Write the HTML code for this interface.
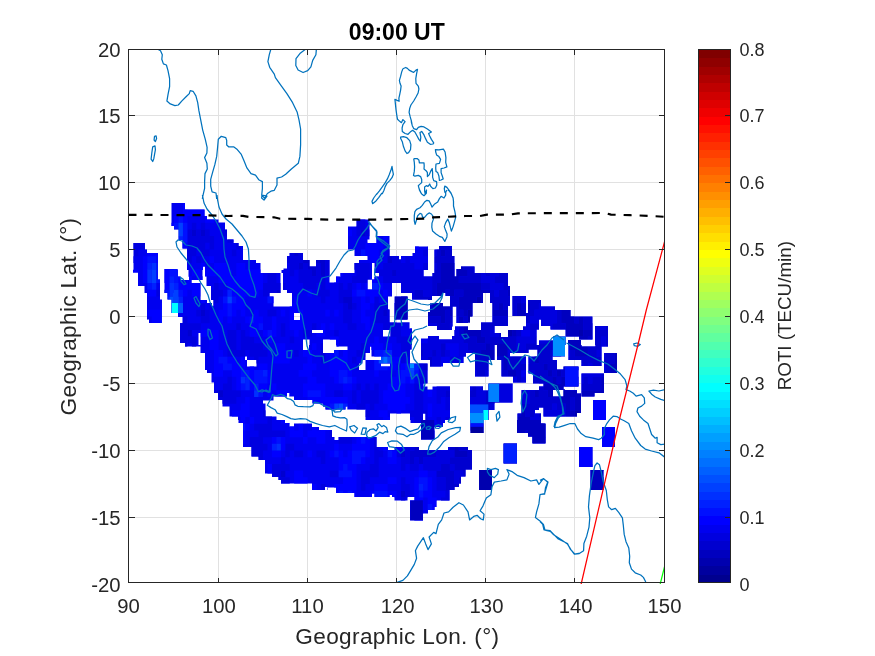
<!DOCTYPE html>
<html lang="en"><head><meta charset="utf-8"><title>09:00 UT</title>
<style>html,body{margin:0;padding:0;background:#fff}svg{display:block}text{font-family:"Liberation Sans",Arial,Helvetica,sans-serif;fill:#262626}</style></head><body>
<svg width="875" height="656" viewBox="0 0 875 656">
<rect width="875" height="656" fill="#fff"/>
<defs><clipPath id="ax"><rect x="128.5" y="49.5" width="536.0" height="534.6"/></clipPath>
<clipPath id="dm"><path d="M171.5 203H185V209.5H171.5ZM171.5 209.5H204.5V216H171.5ZM171.5 216H207V219.5H171.5ZM171.5 219.5H218.5V222.5H171.5ZM171.5 222.5H225V226H171.5ZM356.5 219.5H369.5V226.5H356.5ZM174 226H225V229.5H174ZM348 226.5H369.5V239.5H348ZM178.5 229.5H227V239.5H178.5ZM178.5 239.5H233.5V240H178.5ZM376.5 236H389.5V243H376.5ZM348 239.5H367.5V243H348ZM182.5 240H233.5V243H182.5ZM182.5 243H238.5V246H182.5ZM182.5 246H243V248.5H182.5ZM348 243H389.5V249.5H348ZM133.5 243H145V249.5H133.5ZM439 246H452V249.5H439ZM415 246.5H428V253H415ZM133.5 249.5H147V253H133.5ZM354.5 249.5H389.5V256H354.5ZM434.5 249.5H452V256H434.5ZM412.5 253H428V256H412.5ZM289.5 253H303V256H289.5ZM367.5 256H399V259.5H367.5ZM401 256H428V259.5H401ZM187 248.5H243V260H187ZM287 256H303V260H287ZM367.5 259.5H428V260H367.5ZM187 260H256V263H187ZM359 260H428V263H359ZM287 260H309.5V266.5H287ZM316 260H329.5V266.5H316ZM187 263H260.5V266.5H187ZM287 266.5H329.5V268.5H287ZM461 266.5H474.5V269H461ZM133.5 253H158V270H133.5ZM374.5 263H428V270H374.5ZM187 266.5H203V270H187ZM283.5 268.5H329.5V270H283.5ZM164.5 269H177.5V270H164.5ZM133 270H158V272.5H133ZM434.5 256H454.5V273H434.5ZM354.5 263H372V273H354.5ZM205 266.5H260.5V273H205ZM456.5 269H474.5V273H456.5ZM374.5 270H423.5V273H374.5ZM281.5 270H329.5V273H281.5ZM164.5 270H178V276.5H164.5ZM188.5 270H202.5V276.5H188.5ZM205 273H280.5V276.5H205ZM432.5 273H454.5V276.5H432.5ZM456.5 273H508V276.5H456.5ZM379 273H423.5V276.5H379ZM340.5 273H372V276.5H340.5ZM138 272.5H158V279.5H138ZM374.5 276.5H508V279.5H374.5ZM336 276.5H372V279.5H336ZM164.5 276.5H180.5V280H164.5ZM189 276.5H202.5V280H189ZM283 273H329.5V282.5H283ZM336 279.5H367.5V282.5H336ZM372 279.5H508V283H372ZM164.5 280H191.5V283H164.5ZM206.5 276.5H280.5V286H206.5ZM138 279.5H160V286H138ZM401 283H508V286H401ZM283 282.5H367.5V289.5H283ZM372 283H392V289.5H372ZM283 289.5H392V290H283ZM164.5 283H200.5V293H164.5ZM144.5 286H160V293H144.5ZM401 286H510V293H401ZM211 286H280.5V293H211ZM287 290H392V293H287ZM412 293H443V296H412ZM445.5 293H483V296H445.5ZM292 293H392V296.5H292ZM211 293H269.5V296.5H211ZM167.5 293H200.5V299.5H167.5ZM147 293H160V299.5H147ZM412 296H432V299.5H412ZM211 296.5H273.5V300H211ZM171.5 299.5H200.5V300H171.5ZM428 299.5H432V300H428ZM490 293H510V303H490ZM450 296H483V303H450ZM171.5 300H207V303H171.5ZM432 303H443V303.5H432ZM492.5 303H510V306H492.5ZM292 296.5H388V306.5H292ZM213.5 300H273.5V306.5H213.5ZM528 300H541V306.5H528ZM171.5 303H212V306.5H171.5ZM450 303H472.5V306.5H450ZM430 303.5H443V306.5H430ZM171.5 306.5H388V309.5H171.5ZM528 306.5H555V310H528ZM430 306.5H452.5V312H430ZM512.5 296H526V313H512.5ZM171.5 309.5H389.5V313H171.5ZM528 310H570.5V313H528ZM512.5 313H570.5V316H512.5ZM456.5 306.5H472.5V316.5H456.5ZM526 316H570.5V316.5H526ZM178 313H294V317H178ZM394.5 296.5H407.5V319.5H394.5ZM147 299.5H162V319.5H147ZM526 316.5H592.5V319.5H526ZM300 313H389.5V320H300ZM182.5 317H294V320H182.5ZM492.5 306H508V322.5H492.5ZM456.5 316.5H470V322.5H456.5ZM182.5 320H389.5V322.5H182.5ZM149 319.5H162V323H149ZM456.5 322.5H468V323H456.5ZM182.5 322.5H409.5V323H182.5ZM428 312H452.5V326H428ZM541 319.5H592.5V326H541ZM481 322.5H508V326H481ZM526 319.5H539V326.5H526ZM437 326H452.5V326.5H437ZM180 323H409.5V328.5H180ZM550.5 326H592.5V329.5H550.5ZM523 326.5H539V329.5H523ZM481 326H494.5V330H481ZM455 326.5H468V330H455ZM437 326.5H452V330H437ZM180 328.5H412V330H180ZM523 329.5H536.5V330H523ZM180 330H312V333H180ZM454.5 330H494.5V333H454.5ZM323 330H383V333H323ZM454.5 333H501V336H454.5ZM565.5 329.5H592.5V336.5H565.5ZM390.5 330H412V336.5H390.5ZM200.5 333H383V336.5H200.5ZM508 330H536.5V337H508ZM452 336H501V337H452ZM428 336H439V338.5H428ZM200.5 336.5H412V339.5H200.5ZM579 336.5H592.5V339.5H579ZM452 337H536.5V339.5H452ZM421 338.5H439V339.5H421ZM553 336.5H565.5V340.5H553ZM180 333H198.5V343H180ZM595 326H608V345H595ZM309.5 339.5H323V345H309.5ZM421 339.5H536.5V345H421ZM336 339.5H412V345H336ZM200.5 339.5H303V345H200.5ZM568 340H581V345H568ZM539 340.5H565.5V345H539ZM185 343H198.5V345H185ZM336.5 345H411.5V346.5H336.5ZM568.5 345H581.5V346.5H568.5ZM595.5 345H608V346.5H595.5ZM185 345H303V346.5H185ZM497 345H565V349.5H497ZM371.5 346.5H411.5V349.5H371.5ZM309 345H323V350H309ZM347.5 346.5H370V350H347.5ZM200.5 346.5H303V350H200.5ZM421 345H494.5V353H421ZM497 349.5H528.5V353H497ZM200.5 350H323V353H200.5ZM334 350H370V353H334ZM537.5 349.5H565V356.5H537.5ZM371.5 349.5H410V356.5H371.5ZM205 353H365.5V356.5H205ZM497 353H510V356.5H497ZM421 353H466V356.5H421ZM568.5 346.5H601.5V360H568.5ZM475 353H494.5V360H475ZM381 356.5H410V360H381ZM421 356.5H463.5V360H421ZM205 356.5H245V360H205ZM528.5 356.5H552.5V360H528.5ZM497 356.5H526V360H497ZM247 356.5H365.5V360H247ZM430 360H463.5V363H430ZM256.5 360H362.5V363.5H256.5ZM365.5 360H410V363.5H365.5ZM581.5 360H601.5V366H581.5ZM205 360H247V366.5H205ZM430 363H443V366.5H430ZM390 363.5H427.5V366.5H390ZM256.5 363.5H359V366.5H256.5ZM365.5 363.5H381V366.5H365.5ZM528.5 360H557V369.5H528.5ZM563.5 366.5H578.5V369.5H563.5ZM365.5 366.5H427.5V370H365.5ZM205 366.5H359V370H205ZM604 353H617V373H604ZM207 370H427.5V373H207ZM528.5 369.5H578.5V373.5H528.5ZM501.5 360H526V376.5H501.5ZM475 360H488.5V376.5H475ZM211.5 373H427.5V382.5H211.5ZM513 376.5H526V382.5H513ZM533 373.5H578.5V383.5H533ZM214 382.5H427.5V383.5H214ZM214 383.5H423.5V386.5H214ZM543.5 383.5H578.5V386.5H543.5ZM432.5 386.5H450V389.5H432.5ZM214 386.5H427.5V389.5H214ZM539 386.5H563.5V389.5H539ZM539 389.5H565V390H539ZM488.5 383.5H512.5V390.5H488.5ZM470 386.5H483V390.5H470ZM581.5 373.5H604V393H581.5ZM214 389.5H450V393H214ZM563.5 390H577V393.5H563.5ZM521.5 390H553V396.5H521.5ZM581.5 393H594.5V396.5H581.5ZM289.5 393H450V396.5H289.5ZM218 393H287V396.5H218ZM563.5 393.5H581V396.5H563.5ZM294 396.5H450V400H294ZM218 396.5H273.5V400H218ZM222.5 400H273.5V400.5H222.5ZM470 390.5H512.5V402.5H470ZM312.5 400H450V403.5H312.5ZM222.5 400.5H263V403.5H222.5ZM222.5 403.5H265.5V406.5H222.5ZM323 403.5H450V406.5H323ZM521.5 396.5H581V407.5H521.5ZM325.5 406.5H345.5V409.5H325.5ZM347.5 406.5H450V409.5H347.5ZM470 402.5H494.5V410H470ZM521.5 407.5H539V410H521.5ZM543.5 407.5H581V413H543.5ZM365.5 409.5H450V413.5H365.5ZM521.5 410H535V413.5H521.5ZM229.5 406.5H265.5V416.5H229.5ZM543.5 413H577V416.5H543.5ZM593 400H606V420H593ZM470 410H488.5V420H470ZM365.5 413.5H390V420H365.5ZM410 413.5H423V420H410ZM425.5 413.5H450V420H425.5ZM517.5 413.5H541V420H517.5ZM238 416.5H276.5V420H238ZM410.5 420H445V423H410.5ZM238.5 420H285V423H238.5ZM517 420H541V423.5H517ZM243 423H289.5V426.5H243ZM294 423.5H312V426.5H294ZM421 423H443V427H421ZM243 426.5H312V427H243ZM243 427H319V430H243ZM470.5 420H483.5V433H470.5ZM517 423.5H545.5V433H517ZM528 433H545.5V436.5H528ZM243 430H332V437H243ZM421 427H434.5V439.5H421ZM243 437H334.5V440H243ZM338.5 437H376.5V440H338.5ZM532.5 436.5H545.5V443.5H532.5ZM602 427H615V447H602ZM243 440H376.5V447H243ZM251.5 447H388V450H251.5ZM448 447H468V450H448ZM394.5 447H419V450H394.5ZM251.5 450H472V456.5H251.5ZM258.5 456.5H472V460H258.5ZM503.5 443.5H517V463.5H503.5ZM579 447H592.5V467H579ZM265 460H472V469.5H265ZM265 469.5H465.5V473.5H265ZM272 473.5H465.5V476.5H272ZM272 476.5H461V477H272ZM278.5 477H461V480H278.5ZM281 480H461V483.5H281ZM312 483.5H459V487H312ZM327.5 487H454.5V487.5H327.5ZM590.5 470H603.5V490H590.5ZM479 470H492V490H479ZM312 487H325V490H312ZM336 487.5H454.5V490H336ZM327.5 487.5H328V490H327.5ZM336 490H449.5V493H336ZM354.5 493H449.5V493.5H354.5ZM374.5 493.5H449.5V495H374.5ZM354.5 493.5H372V497H354.5ZM374.5 495H389.5V497H374.5ZM392 495H449.5V497H392ZM394.5 497H407.5V500.5H394.5ZM414.5 497H449.5V500.5H414.5ZM410 500.5H436.5V507H410ZM410 507H434.5V510H410ZM410 510H428V513.5H410ZM410 513.5H423V520.5H410Z"/></clipPath>

</defs>
<path d="M218.5 49.5V582.5M307.5 49.5V582.5M396.5 49.5V582.5M485.5 49.5V582.5M574.5 49.5V582.5M128.5 517.5H664.5M128.5 450.5H664.5M128.5 383.5H664.5M128.5 316.5H664.5M128.5 249.5H664.5M128.5 182.5H664.5M128.5 115.5H664.5" stroke="#e1e1e1" stroke-width="1" fill="none" shape-rendering="crispEdges"/>
<path d="M171.5 203H185V209.5H171.5ZM171.5 209.5H204.5V216H171.5ZM171.5 216H207V219.5H171.5ZM171.5 219.5H218.5V222.5H171.5ZM171.5 222.5H225V226H171.5ZM356.5 219.5H369.5V226.5H356.5ZM174 226H225V229.5H174ZM348 226.5H369.5V239.5H348ZM178.5 229.5H227V239.5H178.5ZM178.5 239.5H233.5V240H178.5ZM376.5 236H389.5V243H376.5ZM348 239.5H367.5V243H348ZM182.5 240H233.5V243H182.5ZM182.5 243H238.5V246H182.5ZM182.5 246H243V248.5H182.5ZM348 243H389.5V249.5H348ZM133.5 243H145V249.5H133.5ZM439 246H452V249.5H439ZM415 246.5H428V253H415ZM133.5 249.5H147V253H133.5ZM354.5 249.5H389.5V256H354.5ZM434.5 249.5H452V256H434.5ZM412.5 253H428V256H412.5ZM289.5 253H303V256H289.5ZM367.5 256H399V259.5H367.5ZM401 256H428V259.5H401ZM187 248.5H243V260H187ZM287 256H303V260H287ZM367.5 259.5H428V260H367.5ZM187 260H256V263H187ZM359 260H428V263H359ZM287 260H309.5V266.5H287ZM316 260H329.5V266.5H316ZM187 263H260.5V266.5H187ZM287 266.5H329.5V268.5H287ZM461 266.5H474.5V269H461ZM133.5 253H158V270H133.5ZM374.5 263H428V270H374.5ZM187 266.5H203V270H187ZM283.5 268.5H329.5V270H283.5ZM164.5 269H177.5V270H164.5ZM133 270H158V272.5H133ZM434.5 256H454.5V273H434.5ZM354.5 263H372V273H354.5ZM205 266.5H260.5V273H205ZM456.5 269H474.5V273H456.5ZM374.5 270H423.5V273H374.5ZM281.5 270H329.5V273H281.5ZM164.5 270H178V276.5H164.5ZM188.5 270H202.5V276.5H188.5ZM205 273H280.5V276.5H205ZM432.5 273H454.5V276.5H432.5ZM456.5 273H508V276.5H456.5ZM379 273H423.5V276.5H379ZM340.5 273H372V276.5H340.5ZM138 272.5H158V279.5H138ZM374.5 276.5H508V279.5H374.5ZM336 276.5H372V279.5H336ZM164.5 276.5H180.5V280H164.5ZM189 276.5H202.5V280H189ZM283 273H329.5V282.5H283ZM336 279.5H367.5V282.5H336ZM372 279.5H508V283H372ZM164.5 280H191.5V283H164.5ZM206.5 276.5H280.5V286H206.5ZM138 279.5H160V286H138ZM401 283H508V286H401ZM283 282.5H367.5V289.5H283ZM372 283H392V289.5H372ZM283 289.5H392V290H283ZM164.5 283H200.5V293H164.5ZM144.5 286H160V293H144.5ZM401 286H510V293H401ZM211 286H280.5V293H211ZM287 290H392V293H287ZM412 293H443V296H412ZM445.5 293H483V296H445.5ZM292 293H392V296.5H292ZM211 293H269.5V296.5H211ZM167.5 293H200.5V299.5H167.5ZM147 293H160V299.5H147ZM412 296H432V299.5H412ZM211 296.5H273.5V300H211ZM171.5 299.5H200.5V300H171.5ZM428 299.5H432V300H428ZM490 293H510V303H490ZM450 296H483V303H450ZM171.5 300H207V303H171.5ZM432 303H443V303.5H432ZM492.5 303H510V306H492.5ZM292 296.5H388V306.5H292ZM213.5 300H273.5V306.5H213.5ZM528 300H541V306.5H528ZM171.5 303H212V306.5H171.5ZM450 303H472.5V306.5H450ZM430 303.5H443V306.5H430ZM171.5 306.5H388V309.5H171.5ZM528 306.5H555V310H528ZM430 306.5H452.5V312H430ZM512.5 296H526V313H512.5ZM171.5 309.5H389.5V313H171.5ZM528 310H570.5V313H528ZM512.5 313H570.5V316H512.5ZM456.5 306.5H472.5V316.5H456.5ZM526 316H570.5V316.5H526ZM178 313H294V317H178ZM394.5 296.5H407.5V319.5H394.5ZM147 299.5H162V319.5H147ZM526 316.5H592.5V319.5H526ZM300 313H389.5V320H300ZM182.5 317H294V320H182.5ZM492.5 306H508V322.5H492.5ZM456.5 316.5H470V322.5H456.5ZM182.5 320H389.5V322.5H182.5ZM149 319.5H162V323H149ZM456.5 322.5H468V323H456.5ZM182.5 322.5H409.5V323H182.5ZM428 312H452.5V326H428ZM541 319.5H592.5V326H541ZM481 322.5H508V326H481ZM526 319.5H539V326.5H526ZM437 326H452.5V326.5H437ZM180 323H409.5V328.5H180ZM550.5 326H592.5V329.5H550.5ZM523 326.5H539V329.5H523ZM481 326H494.5V330H481ZM455 326.5H468V330H455ZM437 326.5H452V330H437ZM180 328.5H412V330H180ZM523 329.5H536.5V330H523ZM180 330H312V333H180ZM454.5 330H494.5V333H454.5ZM323 330H383V333H323ZM454.5 333H501V336H454.5ZM565.5 329.5H592.5V336.5H565.5ZM390.5 330H412V336.5H390.5ZM200.5 333H383V336.5H200.5ZM508 330H536.5V337H508ZM452 336H501V337H452ZM428 336H439V338.5H428ZM200.5 336.5H412V339.5H200.5ZM579 336.5H592.5V339.5H579ZM452 337H536.5V339.5H452ZM421 338.5H439V339.5H421ZM553 336.5H565.5V340.5H553ZM180 333H198.5V343H180ZM595 326H608V345H595ZM309.5 339.5H323V345H309.5ZM421 339.5H536.5V345H421ZM336 339.5H412V345H336ZM200.5 339.5H303V345H200.5ZM568 340H581V345H568ZM539 340.5H565.5V345H539ZM185 343H198.5V345H185ZM336.5 345H411.5V346.5H336.5ZM568.5 345H581.5V346.5H568.5ZM595.5 345H608V346.5H595.5ZM185 345H303V346.5H185ZM497 345H565V349.5H497ZM371.5 346.5H411.5V349.5H371.5ZM309 345H323V350H309ZM347.5 346.5H370V350H347.5ZM200.5 346.5H303V350H200.5ZM421 345H494.5V353H421ZM497 349.5H528.5V353H497ZM200.5 350H323V353H200.5ZM334 350H370V353H334ZM537.5 349.5H565V356.5H537.5ZM371.5 349.5H410V356.5H371.5ZM205 353H365.5V356.5H205ZM497 353H510V356.5H497ZM421 353H466V356.5H421ZM568.5 346.5H601.5V360H568.5ZM475 353H494.5V360H475ZM381 356.5H410V360H381ZM421 356.5H463.5V360H421ZM205 356.5H245V360H205ZM528.5 356.5H552.5V360H528.5ZM497 356.5H526V360H497ZM247 356.5H365.5V360H247ZM430 360H463.5V363H430ZM256.5 360H362.5V363.5H256.5ZM365.5 360H410V363.5H365.5ZM581.5 360H601.5V366H581.5ZM205 360H247V366.5H205ZM430 363H443V366.5H430ZM390 363.5H427.5V366.5H390ZM256.5 363.5H359V366.5H256.5ZM365.5 363.5H381V366.5H365.5ZM528.5 360H557V369.5H528.5ZM563.5 366.5H578.5V369.5H563.5ZM365.5 366.5H427.5V370H365.5ZM205 366.5H359V370H205ZM604 353H617V373H604ZM207 370H427.5V373H207ZM528.5 369.5H578.5V373.5H528.5ZM501.5 360H526V376.5H501.5ZM475 360H488.5V376.5H475ZM211.5 373H427.5V382.5H211.5ZM513 376.5H526V382.5H513ZM533 373.5H578.5V383.5H533ZM214 382.5H427.5V383.5H214ZM214 383.5H423.5V386.5H214ZM543.5 383.5H578.5V386.5H543.5ZM432.5 386.5H450V389.5H432.5ZM214 386.5H427.5V389.5H214ZM539 386.5H563.5V389.5H539ZM539 389.5H565V390H539ZM488.5 383.5H512.5V390.5H488.5ZM470 386.5H483V390.5H470ZM581.5 373.5H604V393H581.5ZM214 389.5H450V393H214ZM563.5 390H577V393.5H563.5ZM521.5 390H553V396.5H521.5ZM581.5 393H594.5V396.5H581.5ZM289.5 393H450V396.5H289.5ZM218 393H287V396.5H218ZM563.5 393.5H581V396.5H563.5ZM294 396.5H450V400H294ZM218 396.5H273.5V400H218ZM222.5 400H273.5V400.5H222.5ZM470 390.5H512.5V402.5H470ZM312.5 400H450V403.5H312.5ZM222.5 400.5H263V403.5H222.5ZM222.5 403.5H265.5V406.5H222.5ZM323 403.5H450V406.5H323ZM521.5 396.5H581V407.5H521.5ZM325.5 406.5H345.5V409.5H325.5ZM347.5 406.5H450V409.5H347.5ZM470 402.5H494.5V410H470ZM521.5 407.5H539V410H521.5ZM543.5 407.5H581V413H543.5ZM365.5 409.5H450V413.5H365.5ZM521.5 410H535V413.5H521.5ZM229.5 406.5H265.5V416.5H229.5ZM543.5 413H577V416.5H543.5ZM593 400H606V420H593ZM470 410H488.5V420H470ZM365.5 413.5H390V420H365.5ZM410 413.5H423V420H410ZM425.5 413.5H450V420H425.5ZM517.5 413.5H541V420H517.5ZM238 416.5H276.5V420H238ZM410.5 420H445V423H410.5ZM238.5 420H285V423H238.5ZM517 420H541V423.5H517ZM243 423H289.5V426.5H243ZM294 423.5H312V426.5H294ZM421 423H443V427H421ZM243 426.5H312V427H243ZM243 427H319V430H243ZM470.5 420H483.5V433H470.5ZM517 423.5H545.5V433H517ZM528 433H545.5V436.5H528ZM243 430H332V437H243ZM421 427H434.5V439.5H421ZM243 437H334.5V440H243ZM338.5 437H376.5V440H338.5ZM532.5 436.5H545.5V443.5H532.5ZM602 427H615V447H602ZM243 440H376.5V447H243ZM251.5 447H388V450H251.5ZM448 447H468V450H448ZM394.5 447H419V450H394.5ZM251.5 450H472V456.5H251.5ZM258.5 456.5H472V460H258.5ZM503.5 443.5H517V463.5H503.5ZM579 447H592.5V467H579ZM265 460H472V469.5H265ZM265 469.5H465.5V473.5H265ZM272 473.5H465.5V476.5H272ZM272 476.5H461V477H272ZM278.5 477H461V480H278.5ZM281 480H461V483.5H281ZM312 483.5H459V487H312ZM327.5 487H454.5V487.5H327.5ZM590.5 470H603.5V490H590.5ZM479 470H492V490H479ZM312 487H325V490H312ZM336 487.5H454.5V490H336ZM327.5 487.5H328V490H327.5ZM336 490H449.5V493H336ZM354.5 493H449.5V493.5H354.5ZM374.5 493.5H449.5V495H374.5ZM354.5 493.5H372V497H354.5ZM374.5 495H389.5V497H374.5ZM392 495H449.5V497H392ZM394.5 497H407.5V500.5H394.5ZM414.5 497H449.5V500.5H414.5ZM410 500.5H436.5V507H410ZM410 507H434.5V510H410ZM410 510H428V513.5H410ZM410 513.5H423V520.5H410Z" fill="#0000ef"/>
<g clip-path="url(#dm)"><path d="M476.6 296.4H481.1V303.15H476.6ZM472.15 303.1H476.65V309.85H472.15ZM467.7 309.8H472.2V316.55H467.7ZM467.7 316.5H472.2V323.25H467.7ZM507.75 329.9H512.25V336.65H507.75ZM578.95 329.9H583.45V336.65H578.95ZM494.4 350H498.9V356.75H494.4ZM561.15 390.2H565.65V396.95H561.15ZM574.5 410.3H579V417.05H574.5ZM481.05 430.4H485.55V437.15H481.05Z" fill="#0000af"/><path d="M441 249.5H445.5V256.25H441ZM441 262.9H454.4V269.65H441ZM458.8 262.9H463.3V269.65H458.8ZM441 269.6H467.75V276.35H441ZM441 276.3H458.85V283.05H441ZM436.55 283H481.1V289.75H436.55ZM436.55 289.7H445.5V296.45H436.55ZM449.9 289.7H454.4V296.45H449.9ZM463.25 289.7H490V296.45H463.25ZM507.75 289.7H512.25V296.45H507.75ZM458.8 296.4H476.65V303.15H458.8ZM481.05 296.4H485.55V303.15H481.05ZM432.1 303.1H449.95V309.85H432.1ZM458.8 303.1H472.2V309.85H458.8ZM489.95 303.1H494.45V309.85H489.95ZM498.85 303.1H503.35V309.85H498.85ZM516.65 303.1H521.15V309.85H516.65ZM525.55 303.1H530.05V309.85H525.55ZM427.65 309.8H445.5V316.55H427.65ZM449.9 309.8H454.4V316.55H449.9ZM463.25 309.8H467.75V316.55H463.25ZM472.15 309.8H476.65V316.55H472.15ZM489.95 309.8H507.8V316.55H489.95ZM516.65 309.8H525.6V316.55H516.65ZM561.15 309.8H574.55V316.55H561.15ZM441 316.5H445.5V323.25H441ZM458.8 316.5H463.3V323.25H458.8ZM561.15 316.5H574.55V323.25H561.15ZM578.95 316.5H583.45V323.25H578.95ZM463.25 323.2H472.2V329.95H463.25ZM565.6 323.2H583.45V329.95H565.6ZM463.25 329.9H481.1V336.65H463.25ZM512.2 329.9H516.7V336.65H512.2ZM565.6 329.9H579V336.65H565.6ZM583.4 329.9H592.35V336.65H583.4ZM476.6 336.6H485.55V343.35H476.6ZM565.6 336.6H587.9V343.35H565.6ZM485.5 343.3H490V350.05H485.5ZM494.4 343.3H507.8V350.05H494.4ZM570.05 343.3H587.9V350.05H570.05ZM481.05 350H494.45V356.75H481.05ZM498.85 350H507.8V356.75H498.85ZM534.45 350H538.95V356.75H534.45ZM574.5 350H587.9V356.75H574.5ZM614.55 350H619.05V356.75H614.55ZM489.95 356.7H494.45V363.45H489.95ZM503.3 356.7H507.8V363.45H503.3ZM534.45 356.7H538.95V363.45H534.45ZM614.55 356.7H619.05V363.45H614.55ZM503.3 363.4H507.8V370.15H503.3ZM543.35 363.4H547.85V370.15H543.35ZM610.1 363.4H619.05V370.15H610.1ZM507.75 370.1H516.7V376.85H507.75ZM547.8 370.1H552.3V376.85H547.8ZM556.7 370.1H561.2V376.85H556.7ZM610.1 370.1H619.05V376.85H610.1ZM552.25 376.8H556.75V383.55H552.25ZM561.15 376.8H570.1V383.55H561.15ZM601.2 376.8H605.7V383.55H601.2ZM543.35 383.5H570.1V390.25H543.35ZM601.2 383.5H605.7V390.25H601.2ZM534.45 390.2H538.95V396.95H534.45ZM547.8 390.2H561.2V396.95H547.8ZM565.6 390.2H605.7V396.95H565.6ZM561.15 396.9H570.1V403.65H561.15ZM574.5 396.9H583.45V403.65H574.5ZM601.2 396.9H605.7V403.65H601.2ZM565.6 403.6H570.1V410.35H565.6ZM574.5 403.6H583.45V410.35H574.5ZM592.3 403.6H596.8V410.35H592.3ZM521.1 410.3H525.6V417.05H521.1ZM570.05 410.3H574.55V417.05H570.05ZM578.95 410.3H583.45V417.05H578.95ZM481.05 417H490V423.75H481.05ZM516.65 417H530.05V423.75H516.65ZM481.05 423.7H485.55V430.45H481.05ZM516.65 423.7H530.05V430.45H516.65ZM614.55 423.7H619.05V430.45H614.55ZM476.6 430.4H481.1V437.15H476.6ZM516.65 430.4H525.6V437.15H516.65ZM503.3 437.1H507.8V443.85H503.3ZM516.65 437.1H521.15V443.85H516.65ZM614.55 437.1H619.05V443.85H614.55ZM454.35 443.8H458.85V450.55H454.35ZM503.3 443.8H507.8V450.55H503.3ZM614.55 443.8H619.05V450.55H614.55ZM454.35 450.5H467.75V457.25H454.35ZM503.3 450.5H507.8V457.25H503.3ZM512.2 450.5H516.7V457.25H512.2Z" fill="#0000bf"/><path d="M191.8 229.4H196.3V236.15H191.8ZM200.7 229.4H205.2V236.15H200.7ZM360.9 229.4H365.4V236.15H360.9ZM436.55 242.8H449.95V249.55H436.55ZM294.15 249.5H298.65V256.25H294.15ZM436.55 249.5H441.05V256.25H436.55ZM445.45 249.5H454.4V256.25H445.45ZM303.05 256.2H325.35V262.95H303.05ZM387.6 256.2H392.1V262.95H387.6ZM432.1 256.2H454.4V262.95H432.1ZM298.6 262.9H303.1V269.65H298.6ZM307.5 262.9H316.45V269.65H307.5ZM320.85 262.9H325.35V269.65H320.85ZM436.55 262.9H441.05V269.65H436.55ZM454.35 262.9H458.85V269.65H454.35ZM463.25 262.9H476.65V269.65H463.25ZM311.95 269.6H316.45V276.35H311.95ZM320.85 269.6H325.35V276.35H320.85ZM392.05 269.6H396.55V276.35H392.05ZM432.1 269.6H441.05V276.35H432.1ZM467.7 269.6H481.1V276.35H467.7ZM485.5 269.6H490V276.35H485.5ZM498.85 269.6H507.8V276.35H498.85ZM432.1 276.3H441.05V283.05H432.1ZM458.8 276.3H481.1V283.05H458.8ZM494.4 276.3H507.8V283.05H494.4ZM432.1 283H436.6V289.75H432.1ZM481.05 283H490V289.75H481.05ZM503.3 283H512.25V289.75H503.3ZM276.35 289.7H285.3V296.45H276.35ZM414.3 289.7H423.25V296.45H414.3ZM432.1 289.7H436.6V296.45H432.1ZM445.45 289.7H449.95V296.45H445.45ZM454.35 289.7H463.3V296.45H454.35ZM489.95 289.7H494.45V296.45H489.95ZM498.85 289.7H507.8V296.45H498.85ZM512.2 289.7H516.7V296.45H512.2ZM343.1 296.4H352.05V303.15H343.1ZM414.3 296.4H432.15V303.15H414.3ZM449.9 296.4H458.85V303.15H449.9ZM489.95 296.4H521.15V303.15H489.95ZM525.55 296.4H543.4V303.15H525.55ZM347.55 303.1H352.05V309.85H347.55ZM427.65 303.1H432.15V309.85H427.65ZM449.9 303.1H458.85V309.85H449.9ZM494.4 303.1H498.9V309.85H494.4ZM503.3 303.1H516.7V309.85H503.3ZM521.1 303.1H525.6V309.85H521.1ZM530 303.1H538.95V309.85H530ZM552.25 303.1H556.75V309.85H552.25ZM200.7 309.8H205.2V316.55H200.7ZM383.15 309.8H387.65V316.55H383.15ZM445.45 309.8H449.95V316.55H445.45ZM454.35 309.8H463.3V316.55H454.35ZM512.2 309.8H516.7V316.55H512.2ZM525.55 309.8H534.5V316.55H525.55ZM556.7 309.8H561.2V316.55H556.7ZM427.65 316.5H441.05V323.25H427.65ZM445.45 316.5H454.4V323.25H445.45ZM463.25 316.5H467.75V323.25H463.25ZM481.05 316.5H507.8V323.25H481.05ZM525.55 316.5H530.05V323.25H525.55ZM556.7 316.5H561.2V323.25H556.7ZM574.5 316.5H579V323.25H574.5ZM583.4 316.5H592.35V323.25H583.4ZM436.55 323.2H449.95V329.95H436.55ZM458.8 323.2H463.3V329.95H458.8ZM481.05 323.2H507.8V329.95H481.05ZM521.1 323.2H525.6V329.95H521.1ZM530 323.2H538.95V329.95H530ZM552.25 323.2H565.65V329.95H552.25ZM583.4 323.2H596.8V329.95H583.4ZM605.65 323.2H610.15V329.95H605.65ZM187.35 329.9H191.85V336.65H187.35ZM449.9 329.9H454.4V336.65H449.9ZM458.8 329.9H463.3V336.65H458.8ZM481.05 329.9H490V336.65H481.05ZM498.85 329.9H503.35V336.65H498.85ZM516.65 329.9H521.15V336.65H516.65ZM592.3 329.9H610.15V336.65H592.3ZM463.25 336.6H476.65V343.35H463.25ZM485.5 336.6H516.7V343.35H485.5ZM534.45 336.6H538.95V343.35H534.45ZM547.8 336.6H565.65V343.35H547.8ZM587.85 336.6H601.25V343.35H587.85ZM605.65 336.6H610.15V343.35H605.65ZM441 343.3H445.5V350.05H441ZM467.7 343.3H485.55V350.05H467.7ZM489.95 343.3H494.45V350.05H489.95ZM507.75 343.3H516.7V350.05H507.75ZM525.55 343.3H556.75V350.05H525.55ZM565.6 343.3H570.1V350.05H565.6ZM587.85 343.3H601.25V350.05H587.85ZM605.65 343.3H610.15V350.05H605.65ZM418.75 350H423.25V356.75H418.75ZM432.1 350H436.6V356.75H432.1ZM441 350H445.5V356.75H441ZM472.15 350H481.1V356.75H472.15ZM512.2 350H530.05V356.75H512.2ZM538.9 350H552.3V356.75H538.9ZM570.05 350H574.55V356.75H570.05ZM587.85 350H596.8V356.75H587.85ZM605.65 350H614.6V356.75H605.65ZM427.65 356.7H432.15V363.45H427.65ZM472.15 356.7H490V363.45H472.15ZM494.4 356.7H503.35V363.45H494.4ZM507.75 356.7H521.15V363.45H507.75ZM530 356.7H534.5V363.45H530ZM538.9 356.7H556.75V363.45H538.9ZM565.6 356.7H614.6V363.45H565.6ZM423.2 363.4H432.15V370.15H423.2ZM472.15 363.4H490V370.15H472.15ZM498.85 363.4H503.35V370.15H498.85ZM507.75 363.4H543.4V370.15H507.75ZM547.8 363.4H579V370.15H547.8ZM583.4 363.4H587.9V370.15H583.4ZM592.3 363.4H601.25V370.15H592.3ZM605.65 363.4H610.15V370.15H605.65ZM476.6 370.1H485.55V376.85H476.6ZM498.85 370.1H507.8V376.85H498.85ZM516.65 370.1H521.15V376.85H516.65ZM534.45 370.1H547.85V376.85H534.45ZM552.25 370.1H556.75V376.85H552.25ZM561.15 370.1H570.1V376.85H561.15ZM601.2 370.1H610.15V376.85H601.2ZM516.65 376.8H521.15V383.55H516.65ZM525.55 376.8H552.3V383.55H525.55ZM556.7 376.8H561.2V383.55H556.7ZM570.05 376.8H574.55V383.55H570.05ZM583.4 376.8H587.9V383.55H583.4ZM592.3 376.8H601.25V383.55H592.3ZM472.15 383.5H476.65V390.25H472.15ZM481.05 383.5H490V390.25H481.05ZM494.4 383.5H498.9V390.25H494.4ZM538.9 383.5H543.4V390.25H538.9ZM570.05 383.5H601.25V390.25H570.05ZM218.5 390.2H223V396.95H218.5ZM445.45 390.2H449.95V396.95H445.45ZM467.7 390.2H476.65V396.95H467.7ZM485.5 390.2H490V396.95H485.5ZM530 390.2H534.5V396.95H530ZM538.9 390.2H547.85V396.95H538.9ZM485.5 396.9H498.9V403.65H485.5ZM530 396.9H561.2V403.65H530ZM570.05 396.9H574.55V403.65H570.05ZM592.3 396.9H601.25V403.65H592.3ZM605.65 396.9H610.15V403.65H605.65ZM476.6 403.6H490V410.35H476.6ZM521.1 403.6H552.3V410.35H521.1ZM556.7 403.6H565.65V410.35H556.7ZM570.05 403.6H574.55V410.35H570.05ZM596.75 403.6H610.15V410.35H596.75ZM485.5 410.3H490V417.05H485.5ZM516.65 410.3H521.15V417.05H516.65ZM525.55 410.3H534.5V417.05H525.55ZM538.9 410.3H543.4V417.05H538.9ZM565.6 410.3H570.1V417.05H565.6ZM592.3 410.3H596.8V417.05H592.3ZM476.6 417H481.1V423.75H476.6ZM592.3 417H596.8V423.75H592.3ZM476.6 423.7H481.1V430.45H476.6ZM530 423.7H534.5V430.45H530ZM538.9 423.7H543.4V430.45H538.9ZM605.65 423.7H614.6V430.45H605.65ZM418.75 430.4H423.25V437.15H418.75ZM525.55 430.4H530.05V437.15H525.55ZM605.65 430.4H619.05V437.15H605.65ZM418.75 437.1H427.7V443.85H418.75ZM507.75 437.1H516.7V443.85H507.75ZM530 437.1H534.5V443.85H530ZM543.35 437.1H547.85V443.85H543.35ZM610.1 437.1H614.6V443.85H610.1ZM414.3 443.8H427.7V450.55H414.3ZM432.1 443.8H436.6V450.55H432.1ZM449.9 443.8H454.4V450.55H449.9ZM458.8 443.8H472.2V450.55H458.8ZM507.75 443.8H521.15V450.55H507.75ZM578.95 443.8H592.35V450.55H578.95ZM610.1 443.8H614.6V450.55H610.1ZM400.95 450.5H405.45V457.25H400.95ZM409.85 450.5H436.6V457.25H409.85ZM467.7 450.5H472.2V457.25H467.7ZM507.75 450.5H512.25V457.25H507.75ZM516.65 450.5H521.15V457.25H516.65ZM578.95 450.5H587.9V457.25H578.95ZM409.85 457.2H414.35V463.95H409.85ZM418.75 457.2H423.25V463.95H418.75ZM449.9 457.2H472.2V463.95H449.9ZM503.3 457.2H521.15V463.95H503.3ZM578.95 457.2H583.45V463.95H578.95ZM587.85 457.2H592.35V463.95H587.85ZM441 463.9H449.95V470.65H441ZM454.35 463.9H472.2V470.65H454.35ZM476.6 463.9H481.1V470.65H476.6ZM489.95 463.9H494.45V470.65H489.95ZM578.95 463.9H592.35V470.65H578.95ZM280.8 470.6H285.3V477.35H280.8ZM436.55 470.6H454.4V477.35H436.55ZM463.25 470.6H467.75V477.35H463.25ZM476.6 470.6H481.1V477.35H476.6ZM485.5 470.6H494.45V477.35H485.5ZM445.45 477.3H454.4V484.05H445.45ZM458.8 477.3H463.3V484.05H458.8ZM476.6 477.3H481.1V484.05H476.6ZM489.95 477.3H494.45V484.05H489.95ZM587.85 477.3H592.35V484.05H587.85ZM596.75 477.3H605.7V484.05H596.75ZM445.45 484H458.85V490.75H445.45ZM476.6 484H494.45V490.75H476.6ZM592.3 484H605.7V490.75H592.3ZM400.95 490.7H405.45V497.45H400.95Z" fill="#0000cf"/><path d="M356.45 216H365.4V222.75H356.45ZM191.8 222.7H196.3V229.45H191.8ZM200.7 222.7H205.2V229.45H200.7ZM356.45 222.7H365.4V229.45H356.45ZM187.35 229.4H191.85V236.15H187.35ZM196.25 229.4H200.75V236.15H196.25ZM205.15 229.4H209.65V236.15H205.15ZM222.95 229.4H227.45V236.15H222.95ZM356.45 229.4H360.95V236.15H356.45ZM365.35 229.4H369.85V236.15H365.35ZM187.35 236.1H214.1V242.85H187.35ZM227.4 236.1H236.35V242.85H227.4ZM129.5 242.8H147.35V249.55H129.5ZM187.35 242.8H205.2V249.55H187.35ZM209.6 242.8H214.1V249.55H209.6ZM236.3 242.8H240.8V249.55H236.3ZM427.65 242.8H432.15V249.55H427.65ZM449.9 242.8H454.4V249.55H449.9ZM133.95 249.5H138.45V256.25H133.95ZM182.9 249.5H196.3V256.25H182.9ZM200.7 249.5H209.65V256.25H200.7ZM231.85 249.5H236.35V256.25H231.85ZM289.7 249.5H294.2V256.25H289.7ZM298.6 249.5H303.1V256.25H298.6ZM387.6 249.5H392.1V256.25H387.6ZM423.2 249.5H427.7V256.25H423.2ZM432.1 249.5H436.6V256.25H432.1ZM129.5 256.2H134V262.95H129.5ZM182.9 256.2H191.85V262.95H182.9ZM196.25 256.2H200.75V262.95H196.25ZM285.25 256.2H303.1V262.95H285.25ZM325.3 256.2H329.8V262.95H325.3ZM392.05 256.2H401V262.95H392.05ZM405.4 256.2H409.9V262.95H405.4ZM289.7 262.9H298.65V269.65H289.7ZM303.05 262.9H307.55V269.65H303.05ZM316.4 262.9H320.9V269.65H316.4ZM325.3 262.9H329.8V269.65H325.3ZM352 262.9H369.85V269.65H352ZM383.15 262.9H414.35V269.65H383.15ZM423.2 262.9H436.6V269.65H423.2ZM267.45 269.6H276.4V276.35H267.45ZM289.7 269.6H294.2V276.35H289.7ZM298.6 269.6H312V276.35H298.6ZM316.4 269.6H320.9V276.35H316.4ZM325.3 269.6H329.8V276.35H325.3ZM356.45 269.6H369.85V276.35H356.45ZM378.7 269.6H392.1V276.35H378.7ZM396.5 269.6H432.15V276.35H396.5ZM481.05 269.6H485.55V276.35H481.05ZM489.95 269.6H498.9V276.35H489.95ZM267.45 276.3H276.4V283.05H267.45ZM298.6 276.3H325.35V283.05H298.6ZM352 276.3H369.85V283.05H352ZM383.15 276.3H432.15V283.05H383.15ZM481.05 276.3H494.45V283.05H481.05ZM214.05 283H218.55V289.75H214.05ZM263 283H285.3V289.75H263ZM303.05 283H316.45V289.75H303.05ZM320.85 283H325.35V289.75H320.85ZM338.65 283H343.15V289.75H338.65ZM347.55 283H352.05V289.75H347.55ZM400.95 283H432.15V289.75H400.95ZM489.95 283H503.35V289.75H489.95ZM156.2 289.7H165.15V296.45H156.2ZM209.6 289.7H223V296.45H209.6ZM263 289.7H276.4V296.45H263ZM285.25 289.7H289.75V296.45H285.25ZM316.4 289.7H329.8V296.45H316.4ZM338.65 289.7H352.05V296.45H338.65ZM400.95 289.7H414.35V296.45H400.95ZM423.2 289.7H432.15V296.45H423.2ZM494.4 289.7H498.9V296.45H494.4ZM516.65 289.7H530.05V296.45H516.65ZM142.85 296.4H147.35V303.15H142.85ZM209.6 296.4H218.55V303.15H209.6ZM320.85 296.4H325.35V303.15H320.85ZM338.65 296.4H343.15V303.15H338.65ZM374.25 296.4H378.75V303.15H374.25ZM400.95 296.4H414.35V303.15H400.95ZM521.1 296.4H525.6V303.15H521.1ZM200.7 303.1H205.2V309.85H200.7ZM209.6 303.1H214.1V309.85H209.6ZM343.1 303.1H347.6V309.85H343.1ZM352 303.1H356.5V309.85H352ZM374.25 303.1H396.55V309.85H374.25ZM400.95 303.1H409.9V309.85H400.95ZM538.9 303.1H552.3V309.85H538.9ZM196.25 309.8H200.75V316.55H196.25ZM205.15 309.8H209.65V316.55H205.15ZM267.45 309.8H276.4V316.55H267.45ZM343.1 309.8H352.05V316.55H343.1ZM374.25 309.8H383.2V316.55H374.25ZM387.6 309.8H396.55V316.55H387.6ZM400.95 309.8H409.9V316.55H400.95ZM534.45 309.8H556.75V316.55H534.45ZM142.85 316.5H147.35V323.25H142.85ZM182.9 316.5H187.4V323.25H182.9ZM200.7 316.5H209.65V323.25H200.7ZM343.1 316.5H352.05V323.25H343.1ZM374.25 316.5H396.55V323.25H374.25ZM400.95 316.5H409.9V323.25H400.95ZM454.35 316.5H458.85V323.25H454.35ZM530 316.5H556.75V323.25H530ZM178.45 323.2H200.75V329.95H178.45ZM236.3 323.2H240.8V329.95H236.3ZM280.8 323.2H285.3V329.95H280.8ZM311.95 323.2H316.45V329.95H311.95ZM347.55 323.2H356.5V329.95H347.55ZM383.15 323.2H401V329.95H383.15ZM409.85 323.2H414.35V329.95H409.85ZM427.65 323.2H436.6V329.95H427.65ZM449.9 323.2H458.85V329.95H449.9ZM525.55 323.2H530.05V329.95H525.55ZM538.9 323.2H552.3V329.95H538.9ZM596.75 323.2H605.7V329.95H596.75ZM178.45 329.9H187.4V336.65H178.45ZM227.4 329.9H236.35V336.65H227.4ZM240.75 329.9H245.25V336.65H240.75ZM280.8 329.9H285.3V336.65H280.8ZM303.05 329.9H312V336.65H303.05ZM334.2 329.9H338.7V336.65H334.2ZM387.6 329.9H401V336.65H387.6ZM436.55 329.9H441.05V336.65H436.55ZM454.35 329.9H458.85V336.65H454.35ZM489.95 329.9H498.9V336.65H489.95ZM530 329.9H538.95V336.65H530ZM178.45 336.6H196.3V343.35H178.45ZM227.4 336.6H236.35V343.35H227.4ZM240.75 336.6H254.15V343.35H240.75ZM289.7 336.6H294.2V343.35H289.7ZM396.5 336.6H409.9V343.35H396.5ZM427.65 336.6H463.3V343.35H427.65ZM516.65 336.6H534.5V343.35H516.65ZM538.9 336.6H547.85V343.35H538.9ZM601.2 336.6H605.7V343.35H601.2ZM182.9 343.3H187.4V350.05H182.9ZM191.8 343.3H196.3V350.05H191.8ZM227.4 343.3H236.35V350.05H227.4ZM240.75 343.3H263.05V350.05H240.75ZM320.85 343.3H325.35V350.05H320.85ZM360.9 343.3H365.4V350.05H360.9ZM400.95 343.3H414.35V350.05H400.95ZM418.75 343.3H441.05V350.05H418.75ZM458.8 343.3H467.75V350.05H458.8ZM516.65 343.3H525.6V350.05H516.65ZM556.7 343.3H565.65V350.05H556.7ZM601.2 343.3H605.7V350.05H601.2ZM227.4 350H245.25V356.75H227.4ZM249.65 350H267.5V356.75H249.65ZM294.15 350H298.65V356.75H294.15ZM320.85 350H325.35V356.75H320.85ZM356.45 350H365.4V356.75H356.45ZM400.95 350H409.9V356.75H400.95ZM423.2 350H432.15V356.75H423.2ZM436.55 350H441.05V356.75H436.55ZM445.45 350H449.95V356.75H445.45ZM458.8 350H472.2V356.75H458.8ZM507.75 350H512.25V356.75H507.75ZM552.25 350H561.2V356.75H552.25ZM565.6 350H570.1V356.75H565.6ZM596.75 350H605.7V356.75H596.75ZM254.1 356.7H258.6V363.45H254.1ZM320.85 356.7H325.35V363.45H320.85ZM352 356.7H356.5V363.45H352ZM400.95 356.7H405.45V363.45H400.95ZM418.75 356.7H427.7V363.45H418.75ZM432.1 356.7H441.05V363.45H432.1ZM449.9 356.7H458.85V363.45H449.9ZM463.25 356.7H467.75V363.45H463.25ZM521.1 356.7H530.05V363.45H521.1ZM556.7 356.7H561.2V363.45H556.7ZM356.45 363.4H360.95V370.15H356.45ZM418.75 363.4H423.25V370.15H418.75ZM432.1 363.4H441.05V370.15H432.1ZM578.95 363.4H583.45V370.15H578.95ZM587.85 363.4H592.35V370.15H587.85ZM601.2 363.4H605.7V370.15H601.2ZM205.15 370.1H209.65V376.85H205.15ZM423.2 370.1H427.7V376.85H423.2ZM472.15 370.1H476.65V376.85H472.15ZM485.5 370.1H490V376.85H485.5ZM525.55 370.1H534.5V376.85H525.55ZM570.05 370.1H574.55V376.85H570.05ZM578.95 370.1H601.25V376.85H578.95ZM227.4 376.8H231.9V383.55H227.4ZM418.75 376.8H427.7V383.55H418.75ZM512.2 376.8H516.7V383.55H512.2ZM521.1 376.8H525.6V383.55H521.1ZM574.5 376.8H583.45V383.55H574.5ZM587.85 376.8H592.35V383.55H587.85ZM222.95 383.5H231.9V390.25H222.95ZM356.45 383.5H360.95V390.25H356.45ZM365.35 383.5H369.85V390.25H365.35ZM374.25 383.5H378.75V390.25H374.25ZM414.3 383.5H418.8V390.25H414.3ZM436.55 383.5H449.95V390.25H436.55ZM467.7 383.5H472.2V390.25H467.7ZM476.6 383.5H481.1V390.25H476.6ZM489.95 383.5H494.45V390.25H489.95ZM498.85 383.5H516.7V390.25H498.85ZM214.05 390.2H218.55V396.95H214.05ZM222.95 390.2H240.8V396.95H222.95ZM334.2 390.2H343.15V396.95H334.2ZM352 390.2H356.5V396.95H352ZM360.9 390.2H378.75V396.95H360.9ZM414.3 390.2H423.25V396.95H414.3ZM436.55 390.2H445.5V396.95H436.55ZM476.6 390.2H485.55V396.95H476.6ZM489.95 390.2H516.7V396.95H489.95ZM521.1 390.2H530.05V396.95H521.1ZM214.05 396.9H236.35V403.65H214.05ZM352 396.9H356.5V403.65H352ZM360.9 396.9H378.75V403.65H360.9ZM414.3 396.9H423.25V403.65H414.3ZM436.55 396.9H441.05V403.65H436.55ZM445.45 396.9H449.95V403.65H445.45ZM467.7 396.9H485.55V403.65H467.7ZM498.85 396.9H516.7V403.65H498.85ZM521.1 396.9H530.05V403.65H521.1ZM356.45 403.6H365.4V410.35H356.45ZM369.8 403.6H374.3V410.35H369.8ZM414.3 403.6H423.25V410.35H414.3ZM445.45 403.6H449.95V410.35H445.45ZM467.7 403.6H476.65V410.35H467.7ZM489.95 403.6H494.45V410.35H489.95ZM552.25 403.6H556.75V410.35H552.25ZM263 410.3H271.95V417.05H263ZM365.35 410.3H369.85V417.05H365.35ZM409.85 410.3H427.7V417.05H409.85ZM467.7 410.3H485.55V417.05H467.7ZM534.45 410.3H538.95V417.05H534.45ZM543.35 410.3H565.65V417.05H543.35ZM596.75 410.3H601.25V417.05H596.75ZM605.65 410.3H610.15V417.05H605.65ZM267.45 417H271.95V423.75H267.45ZM414.3 417H427.7V423.75H414.3ZM436.55 417H441.05V423.75H436.55ZM445.45 417H449.95V423.75H445.45ZM467.7 417H476.65V423.75H467.7ZM530 417H543.4V423.75H530ZM596.75 417H610.15V423.75H596.75ZM254.1 423.7H271.95V430.45H254.1ZM418.75 423.7H432.15V430.45H418.75ZM467.7 423.7H476.65V430.45H467.7ZM534.45 423.7H538.95V430.45H534.45ZM543.35 423.7H547.85V430.45H543.35ZM601.2 423.7H605.7V430.45H601.2ZM258.55 430.4H285.3V437.15H258.55ZM329.75 430.4H334.25V437.15H329.75ZM423.2 430.4H436.6V437.15H423.2ZM472.15 430.4H476.65V437.15H472.15ZM530 430.4H534.5V437.15H530ZM538.9 430.4H547.85V437.15H538.9ZM601.2 430.4H605.7V437.15H601.2ZM249.65 437.1H263.05V443.85H249.65ZM338.65 437.1H352.05V443.85H338.65ZM374.25 437.1H378.75V443.85H374.25ZM427.65 437.1H436.6V443.85H427.65ZM534.45 437.1H543.4V443.85H534.45ZM601.2 437.1H610.15V443.85H601.2ZM249.65 443.8H267.5V450.55H249.65ZM285.25 443.8H294.2V450.55H285.25ZM374.25 443.8H378.75V450.55H374.25ZM405.4 443.8H414.35V450.55H405.4ZM427.65 443.8H432.15V450.55H427.65ZM436.55 443.8H441.05V450.55H436.55ZM445.45 443.8H449.95V450.55H445.45ZM601.2 443.8H610.15V450.55H601.2ZM249.65 450.5H263.05V457.25H249.65ZM285.25 450.5H289.75V457.25H285.25ZM294.15 450.5H303.1V457.25H294.15ZM316.4 450.5H325.35V457.25H316.4ZM374.25 450.5H383.2V457.25H374.25ZM396.5 450.5H401V457.25H396.5ZM405.4 450.5H409.9V457.25H405.4ZM436.55 450.5H454.4V457.25H436.55ZM587.85 450.5H592.35V457.25H587.85ZM258.55 457.2H263.05V463.95H258.55ZM280.8 457.2H285.3V463.95H280.8ZM320.85 457.2H325.35V463.95H320.85ZM374.25 457.2H378.75V463.95H374.25ZM400.95 457.2H409.9V463.95H400.95ZM414.3 457.2H418.8V463.95H414.3ZM423.2 457.2H449.95V463.95H423.2ZM583.4 457.2H587.9V463.95H583.4ZM271.9 463.9H289.75V470.65H271.9ZM369.8 463.9H378.75V470.65H369.8ZM400.95 463.9H405.45V470.65H400.95ZM409.85 463.9H418.8V470.65H409.85ZM423.2 463.9H441.05V470.65H423.2ZM449.9 463.9H454.4V470.65H449.9ZM481.05 463.9H490V470.65H481.05ZM592.3 463.9H605.7V470.65H592.3ZM271.9 470.6H280.85V477.35H271.9ZM329.75 470.6H338.7V477.35H329.75ZM360.9 470.6H378.75V477.35H360.9ZM454.35 470.6H463.3V477.35H454.35ZM481.05 470.6H485.55V477.35H481.05ZM587.85 470.6H601.25V477.35H587.85ZM276.35 477.3H289.75V484.05H276.35ZM360.9 477.3H369.85V484.05H360.9ZM400.95 477.3H405.45V484.05H400.95ZM436.55 477.3H445.5V484.05H436.55ZM454.35 477.3H458.85V484.05H454.35ZM481.05 477.3H490V484.05H481.05ZM592.3 477.3H596.8V484.05H592.3ZM320.85 484H325.35V490.75H320.85ZM360.9 484H365.4V490.75H360.9ZM400.95 484H409.9V490.75H400.95ZM436.55 484H445.5V490.75H436.55ZM587.85 484H592.35V490.75H587.85ZM405.4 490.7H409.9V497.45H405.4ZM445.45 490.7H449.95V497.45H445.45ZM400.95 497.4H405.45V504.15H400.95ZM441 497.4H449.95V504.15H441Z" fill="#0000df"/><path d="M182.9 202.6H187.4V209.35H182.9ZM182.9 209.3H205.2V216.05H182.9ZM174 216H178.5V222.75H174ZM182.9 216H187.4V222.75H182.9ZM205.15 216H214.1V222.75H205.15ZM169.55 222.7H174.05V229.45H169.55ZM347.55 229.4H352.05V236.15H347.55ZM374.25 236.1H378.75V242.85H374.25ZM383.15 236.1H387.65V242.85H383.15ZM182.9 242.8H187.4V249.55H182.9ZM365.35 242.8H383.2V249.55H365.35ZM414.3 242.8H418.8V249.55H414.3ZM147.3 249.5H160.7V256.25H147.3ZM365.35 249.5H378.75V256.25H365.35ZM142.85 256.2H147.35V262.95H142.85ZM156.2 256.2H160.7V262.95H156.2ZM209.6 256.2H214.1V262.95H209.6ZM369.8 256.2H378.75V262.95H369.8ZM142.85 262.9H147.35V269.65H142.85ZM160.65 262.9H174.05V269.65H160.65ZM182.9 262.9H187.4V269.65H182.9ZM200.7 262.9H205.2V269.65H200.7ZM214.05 262.9H227.45V269.65H214.05ZM236.3 262.9H245.25V269.65H236.3ZM129.5 269.6H138.45V276.35H129.5ZM142.85 269.6H147.35V276.35H142.85ZM160.65 269.6H169.6V276.35H160.65ZM191.8 269.6H200.75V276.35H191.8ZM205.15 269.6H231.9V276.35H205.15ZM236.3 269.6H263.05V276.35H236.3ZM338.65 269.6H343.15V276.35H338.65ZM133.95 276.3H138.45V283.05H133.95ZM142.85 276.3H147.35V283.05H142.85ZM160.65 276.3H169.6V283.05H160.65ZM178.45 276.3H182.95V283.05H178.45ZM187.35 276.3H191.85V283.05H187.35ZM196.25 276.3H205.2V283.05H196.25ZM218.5 276.3H263.05V283.05H218.5ZM334.2 276.3H338.7V283.05H334.2ZM369.8 276.3H378.75V283.05H369.8ZM165.1 283H169.6V289.75H165.1ZM178.45 283H200.75V289.75H178.45ZM227.4 283H263.05V289.75H227.4ZM356.45 283H360.95V289.75H356.45ZM365.35 283H369.85V289.75H365.35ZM378.7 283H383.2V289.75H378.7ZM147.3 289.7H156.25V296.45H147.3ZM182.9 289.7H187.4V296.45H182.9ZM191.8 289.7H200.75V296.45H191.8ZM231.85 289.7H258.6V296.45H231.85ZM307.5 289.7H312V296.45H307.5ZM352 289.7H356.5V296.45H352ZM365.35 289.7H378.75V296.45H365.35ZM383.15 289.7H387.65V296.45H383.15ZM200.7 296.4H205.2V303.15H200.7ZM236.3 296.4H245.25V303.15H236.3ZM271.9 296.4H276.4V303.15H271.9ZM294.15 296.4H298.65V303.15H294.15ZM360.9 296.4H365.4V303.15H360.9ZM369.8 296.4H374.3V303.15H369.8ZM160.65 303.1H165.15V309.85H160.65ZM222.95 303.1H227.45V309.85H222.95ZM231.85 303.1H245.25V309.85H231.85ZM289.7 303.1H298.65V309.85H289.7ZM360.9 303.1H369.85V309.85H360.9ZM147.3 309.8H160.7V316.55H147.3ZM218.5 309.8H227.45V316.55H218.5ZM231.85 309.8H236.35V316.55H231.85ZM240.75 309.8H245.25V316.55H240.75ZM254.1 309.8H258.6V316.55H254.1ZM280.8 309.8H285.3V316.55H280.8ZM289.7 309.8H303.1V316.55H289.7ZM325.3 309.8H329.8V316.55H325.3ZM334.2 309.8H338.7V316.55H334.2ZM360.9 309.8H365.4V316.55H360.9ZM151.75 316.5H160.7V323.25H151.75ZM218.5 316.5H223V323.25H218.5ZM227.4 316.5H231.9V323.25H227.4ZM245.2 316.5H249.7V323.25H245.2ZM254.1 316.5H263.05V323.25H254.1ZM271.9 316.5H276.4V323.25H271.9ZM289.7 316.5H303.1V323.25H289.7ZM360.9 316.5H369.85V323.25H360.9ZM249.65 323.2H258.6V329.95H249.65ZM271.9 323.2H276.4V329.95H271.9ZM289.7 323.2H303.1V329.95H289.7ZM320.85 323.2H325.35V329.95H320.85ZM329.75 323.2H334.25V329.95H329.75ZM365.35 323.2H369.85V329.95H365.35ZM200.7 329.9H218.55V336.65H200.7ZM249.65 329.9H258.6V336.65H249.65ZM263 329.9H267.5V336.65H263ZM271.9 329.9H276.4V336.65H271.9ZM294.15 329.9H298.65V336.65H294.15ZM316.4 329.9H325.35V336.65H316.4ZM209.6 336.6H218.55V343.35H209.6ZM267.45 336.6H271.95V343.35H267.45ZM329.75 336.6H338.7V343.35H329.75ZM374.25 336.6H378.75V343.35H374.25ZM209.6 343.3H218.55V350.05H209.6ZM276.35 343.3H285.3V350.05H276.35ZM311.95 343.3H316.45V350.05H311.95ZM334.2 343.3H338.7V350.05H334.2ZM369.8 343.3H383.2V350.05H369.8ZM387.6 343.3H392.1V350.05H387.6ZM214.05 350H223V356.75H214.05ZM276.35 350H289.75V356.75H276.35ZM303.05 350H312V356.75H303.05ZM329.75 350H334.25V356.75H329.75ZM343.1 350H347.6V356.75H343.1ZM214.05 356.7H218.55V363.45H214.05ZM227.4 356.7H236.35V363.45H227.4ZM240.75 356.7H245.25V363.45H240.75ZM271.9 356.7H289.75V363.45H271.9ZM307.5 356.7H312V363.45H307.5ZM329.75 356.7H347.6V363.45H329.75ZM392.05 356.7H401V363.45H392.05ZM214.05 363.4H223V370.15H214.05ZM231.85 363.4H245.25V370.15H231.85ZM249.65 363.4H254.15V370.15H249.65ZM258.55 363.4H267.5V370.15H258.55ZM303.05 363.4H316.45V370.15H303.05ZM329.75 363.4H347.6V370.15H329.75ZM387.6 363.4H396.55V370.15H387.6ZM400.95 363.4H405.45V370.15H400.95ZM214.05 370.1H223V376.85H214.05ZM231.85 370.1H240.8V376.85H231.85ZM249.65 370.1H254.15V376.85H249.65ZM267.45 370.1H271.95V376.85H267.45ZM298.6 370.1H312V376.85H298.6ZM329.75 370.1H338.7V376.85H329.75ZM347.55 370.1H352.05V376.85H347.55ZM374.25 370.1H378.75V376.85H374.25ZM396.5 370.1H401V376.85H396.5ZM236.3 376.8H240.8V383.55H236.3ZM249.65 376.8H254.15V383.55H249.65ZM267.45 376.8H271.95V383.55H267.45ZM307.5 376.8H316.45V383.55H307.5ZM334.2 376.8H338.7V383.55H334.2ZM352 376.8H356.5V383.55H352ZM392.05 376.8H401V383.55H392.05ZM405.4 376.8H409.9V383.55H405.4ZM236.3 383.5H240.8V390.25H236.3ZM249.65 383.5H254.15V390.25H249.65ZM258.55 383.5H267.5V390.25H258.55ZM271.9 383.5H276.4V390.25H271.9ZM303.05 383.5H325.35V390.25H303.05ZM343.1 383.5H352.05V390.25H343.1ZM387.6 383.5H405.45V390.25H387.6ZM267.45 390.2H271.95V396.95H267.45ZM276.35 390.2H289.75V396.95H276.35ZM303.05 390.2H307.55V396.95H303.05ZM320.85 390.2H325.35V396.95H320.85ZM383.15 390.2H405.45V396.95H383.15ZM427.65 390.2H432.15V396.95H427.65ZM245.2 396.9H249.7V403.65H245.2ZM307.5 396.9H347.6V403.65H307.5ZM383.15 396.9H409.9V403.65H383.15ZM240.75 403.6H249.7V410.35H240.75ZM320.85 403.6H329.8V410.35H320.85ZM387.6 403.6H405.45V410.35H387.6ZM427.65 403.6H432.15V410.35H427.65ZM231.85 410.3H249.7V417.05H231.85ZM378.7 410.3H387.65V417.05H378.7ZM396.5 410.3H401V417.05H396.5ZM427.65 410.3H432.15V417.05H427.65ZM240.75 417H245.25V423.75H240.75ZM249.65 417H254.15V423.75H249.65ZM280.8 417H289.75V423.75H280.8ZM383.15 417H392.1V423.75H383.15ZM245.2 423.7H249.7V430.45H245.2ZM289.7 423.7H294.2V430.45H289.7ZM298.6 423.7H303.1V430.45H298.6ZM311.95 423.7H316.45V430.45H311.95ZM320.85 423.7H329.8V430.45H320.85ZM240.75 430.4H245.25V437.15H240.75ZM289.7 430.4H303.1V437.15H289.7ZM307.5 430.4H325.35V437.15H307.5ZM240.75 437.1H245.25V443.85H240.75ZM271.9 437.1H276.4V443.85H271.9ZM280.8 437.1H285.3V443.85H280.8ZM303.05 437.1H307.55V443.85H303.05ZM316.4 437.1H325.35V443.85H316.4ZM356.45 437.1H360.95V443.85H356.45ZM365.35 437.1H369.85V443.85H365.35ZM280.8 443.8H285.3V450.55H280.8ZM334.2 443.8H338.7V450.55H334.2ZM352 443.8H369.85V450.55H352ZM383.15 443.8H392.1V450.55H383.15ZM271.9 450.5H280.85V457.25H271.9ZM307.5 450.5H312V457.25H307.5ZM329.75 450.5H334.25V457.25H329.75ZM338.65 450.5H343.15V457.25H338.65ZM347.55 450.5H352.05V457.25H347.55ZM365.35 450.5H369.85V457.25H365.35ZM392.05 450.5H396.55V457.25H392.05ZM338.65 457.2H352.05V463.95H338.65ZM360.9 457.2H365.4V463.95H360.9ZM387.6 457.2H396.55V463.95H387.6ZM267.45 463.9H271.95V470.65H267.45ZM338.65 463.9H343.15V470.65H338.65ZM347.55 463.9H356.5V470.65H347.55ZM267.45 470.6H271.95V477.35H267.45ZM294.15 470.6H303.1V477.35H294.15ZM352 470.6H356.5V477.35H352ZM418.75 470.6H427.7V477.35H418.75ZM294.15 477.3H307.55V484.05H294.15ZM343.1 477.3H356.5V484.05H343.1ZM387.6 477.3H396.55V484.05H387.6ZM414.3 477.3H418.8V484.05H414.3ZM427.65 477.3H432.15V484.05H427.65ZM311.95 484H316.45V490.75H311.95ZM334.2 484H356.5V490.75H334.2ZM374.25 484H387.65V490.75H374.25ZM414.3 484H418.8V490.75H414.3ZM427.65 484H432.15V490.75H427.65ZM334.2 490.7H338.7V497.45H334.2ZM343.1 490.7H347.6V497.45H343.1ZM352 490.7H356.5V497.45H352ZM369.8 490.7H374.3V497.45H369.8ZM387.6 490.7H396.55V497.45H387.6ZM414.3 490.7H418.8V497.45H414.3ZM423.2 490.7H432.15V497.45H423.2ZM409.85 497.4H423.25V504.15H409.85ZM427.65 497.4H436.6V504.15H427.65ZM414.3 504.1H423.25V510.85H414.3ZM432.1 504.1H436.6V510.85H432.1ZM414.3 510.8H423.25V517.55H414.3ZM414.3 517.5H423.25V524.25H414.3Z" fill="#0000ff"/><path d="M178.45 216H182.95V222.75H178.45ZM174 222.7H178.5V229.45H174ZM182.9 222.7H187.4V229.45H182.9ZM182.9 229.4H187.4V236.15H182.9ZM182.9 236.1H187.4V242.85H182.9ZM178.45 242.8H182.95V249.55H178.45ZM360.9 249.5H365.4V256.25H360.9ZM147.3 256.2H156.25V262.95H147.3ZM156.2 262.9H160.7V269.65H156.2ZM174 262.9H178.5V269.65H174ZM156.2 269.6H160.7V276.35H156.2ZM169.55 269.6H178.5V276.35H169.55ZM156.2 276.3H160.7V283.05H156.2ZM174 276.3H178.5V283.05H174ZM147.3 283H151.8V289.75H147.3ZM165.1 289.7H169.6V296.45H165.1ZM178.45 289.7H182.95V296.45H178.45ZM356.45 289.7H365.4V296.45H356.45ZM222.95 296.4H227.45V303.15H222.95ZM231.85 296.4H236.35V303.15H231.85ZM267.45 296.4H271.95V303.15H267.45ZM178.45 303.1H182.95V309.85H178.45ZM227.4 303.1H231.9V309.85H227.4ZM160.65 309.8H165.15V316.55H160.65ZM169.55 309.8H174.05V316.55H169.55ZM227.4 309.8H231.9V316.55H227.4ZM160.65 316.5H165.15V323.25H160.65ZM249.65 316.5H254.15V323.25H249.65ZM258.55 323.2H263.05V329.95H258.55ZM267.45 329.9H271.95V336.65H267.45ZM334.2 350H338.7V356.75H334.2ZM374.25 350H383.2V356.75H374.25ZM218.5 356.7H227.45V363.45H218.5ZM374.25 356.7H378.75V363.45H374.25ZM222.95 363.4H231.9V370.15H222.95ZM374.25 363.4H387.65V370.15H374.25ZM405.4 363.4H409.9V370.15H405.4ZM240.75 370.1H249.7V376.85H240.75ZM254.1 370.1H263.05V376.85H254.1ZM338.65 370.1H347.6V376.85H338.65ZM400.95 370.1H409.9V376.85H400.95ZM414.3 370.1H418.8V376.85H414.3ZM254.1 376.8H267.5V383.55H254.1ZM338.65 376.8H343.15V383.55H338.65ZM347.55 376.8H352.05V383.55H347.55ZM400.95 376.8H405.45V383.55H400.95ZM409.85 376.8H414.35V383.55H409.85ZM240.75 383.5H245.25V390.25H240.75ZM258.55 390.2H263.05V396.95H258.55ZM307.5 390.2H320.9V396.95H307.5ZM329.75 403.6H334.25V410.35H329.75ZM240.75 423.7H245.25V430.45H240.75ZM276.35 437.1H280.85V443.85H276.35ZM360.9 437.1H365.4V443.85H360.9ZM334.2 450.5H338.7V457.25H334.2ZM352 450.5H365.4V457.25H352ZM387.6 450.5H392.1V457.25H387.6ZM352 457.2H360.95V463.95H352ZM343.1 463.9H347.6V470.65H343.1ZM338.65 470.6H352.05V477.35H338.65ZM418.75 477.3H427.7V484.05H418.75ZM423.2 484H427.7V490.75H423.2ZM338.65 490.7H343.15V497.45H338.65ZM347.55 490.7H352.05V497.45H347.55ZM374.25 490.7H387.65V497.45H374.25ZM418.75 490.7H423.25V497.45H418.75ZM427.65 504.1H432.15V510.85H427.65Z" fill="#0010ff"/><path d="M178.45 236.1H182.95V242.85H178.45ZM147.3 262.9H151.8V269.65H147.3ZM169.55 276.3H174.05V283.05H169.55ZM151.75 283H156.25V289.75H151.75ZM174 283H178.5V289.75H174ZM369.8 283H378.75V289.75H369.8ZM227.4 289.7H231.9V296.45H227.4ZM165.1 296.4H169.6V303.15H165.1ZM178.45 296.4H182.95V303.15H178.45ZM169.55 303.1H174.05V309.85H169.55ZM383.15 350H392.1V356.75H383.15ZM414.3 363.4H418.8V370.15H414.3ZM263 370.1H267.5V376.85H263ZM245.2 376.8H249.7V383.55H245.2ZM343.1 376.8H347.6V383.55H343.1ZM245.2 383.5H249.7V390.25H245.2ZM254.1 383.5H258.6V390.25H254.1ZM343.1 403.6H347.6V410.35H343.1ZM271.9 443.8H276.4V450.55H271.9ZM418.75 484H423.25V490.75H418.75Z" fill="#0020ff"/><path d="M151.75 262.9H156.25V269.65H151.75ZM147.3 269.6H151.8V276.35H147.3ZM147.3 276.3H151.8V283.05H147.3ZM169.55 283H174.05V289.75H169.55ZM169.55 289.7H174.05V296.45H169.55ZM174 303.1H178.5V309.85H174ZM240.75 376.8H245.25V383.55H240.75ZM254.1 390.2H258.6V396.95H254.1ZM276.35 443.8H280.85V450.55H276.35Z" fill="#0030ff"/><path d="M178.45 222.7H182.95V229.45H178.45ZM178.45 229.4H182.95V236.15H178.45ZM151.75 269.6H156.25V276.35H151.75ZM151.75 276.3H156.25V283.05H151.75ZM174 289.7H178.5V296.45H174ZM227.4 296.4H231.9V303.15H227.4ZM387.6 356.7H392.1V363.45H387.6ZM409.85 370.1H414.35V376.85H409.85ZM334.2 403.6H338.7V410.35H334.2Z" fill="#0040ff"/><path d="M169.55 296.4H174.05V303.15H169.55ZM378.7 356.7H383.2V363.45H378.7ZM409.85 363.4H414.35V370.15H409.85ZM338.65 403.6H343.15V410.35H338.65Z" fill="#0050ff"/><path d="M174 296.4H178.5V303.15H174Z" fill="#0060ff"/><path d="M383.15 356.7H387.65V363.45H383.15Z" fill="#0070ff"/><rect x="171.4" y="303" width="6.6" height="10" fill="#00ffff"/><rect x="178" y="303" width="5" height="10" fill="#0060ff"/><rect x="173" y="293" width="5" height="10" fill="#0040ff"/><rect x="552.9" y="336.3" width="13.1" height="20.1" fill="#008fff"/><rect x="488.3" y="383.3" width="10.8" height="18.7" fill="#0080ff"/><rect x="470" y="404.4" width="18.3" height="8.6" fill="#0050ff"/><rect x="470" y="413" width="13.4" height="10.4" fill="#008fff"/><rect x="483.4" y="410" width="4.9" height="13.4" fill="#00ffff"/><rect x="470.3" y="423.4" width="13.1" height="3.5" fill="#0010ff"/><rect x="470.3" y="426.9" width="13.1" height="6.2" fill="#00009f"/><rect x="479.2" y="470" width="12.8" height="20" fill="#0000af"/><rect x="590.6" y="470" width="13.1" height="20" fill="#0000bf"/><rect x="503.4" y="443.4" width="13.5" height="20" fill="#0020ff"/><rect x="579.2" y="446.9" width="13.4" height="20" fill="#0000ff"/><rect x="602.1" y="426.9" width="13" height="20" fill="#0000ff"/><rect x="593" y="400" width="13" height="20" fill="#0000ff"/><rect x="565" y="366.7" width="13.7" height="20" fill="#0010ff"/><rect x="421" y="420" width="13.3" height="19.4" fill="#0000bf"/><rect x="410.3" y="500.3" width="12.6" height="20" fill="#0000bf"/><rect x="528" y="420" width="17.7" height="23.4" fill="#0000bf"/><rect x="395" y="296.3" width="13" height="23.7" fill="#0000bf"/><rect x="410" y="363.3" width="4" height="4.7" fill="#008fff"/></g>
<g clip-path="url(#ax)" fill="none" stroke="#0072bd" stroke-width="1.25" stroke-linejoin="round">
<path d="M157.3 49L160.5 50.8L162.3 54.7L161.8 59.3L163.4 63.9L166.4 65L168 70.7L169.6 78.7L169.6 86.7L168 94.7L166.9 101.1L170.3 103.9L174.9 105.7L178.3 105L181.7 101.1L186.3 96.5L189.3 93.6L190.2 90.6L193.1 91.3L195.9 95.9L197.7 102.7L198.9 110.7L200.7 119.9L202.7 130.1L205.3 139.3L207.1 147.3L206.9 153L204.6 157.6L206.9 163.3L207.3 169L205 173.6L204.6 181.6L204.6 188.4L203 195.3L202.3 198.9M216.7 198.9L216 193L212.1 191.9L210.7 186.1L210.7 179.3L212.6 172.4L214.9 164.4L216.7 156.4L217.6 147.3L218.3 139.3L221.3 136.3L225.8 137.7L226.7 140.4L226.7 145L228.6 146.8L233.6 146.8L237.3 149.6L241.1 154.1L244.1 161L246.9 167.9L251 173.6L255.5 175.2L258.7 179.7L262.4 181.6L262.4 188.4L261.7 195.3L264.5 198L267.4 193.5L270.9 191.2L274.3 190.3L277 185L277 178.1L281.6 177L285.7 174.3L291.4 169L298.3 163.3L299.9 156.4L300.6 145L300.6 129L299 119.9L297.1 111.9L292.6 102.7L286.9 93.6L281.1 85.6L275.4 77.6L274.3 74.1L269.7 67.3L267.9 61.6L269.3 54.7L270.9 49M305.8 49L299.9 53.6L296 58.6L295.8 65.5L298.1 70L303.1 72.5L307.7 70.7L310.9 66.8L312.7 60.4L315.9 54.7L316.3 50.1L315.4 49M154.5 136.3L156.1 135.9L156.6 138.6L155.4 141.6L154.1 140ZM152.7 146.8L155 145.9L155.4 149.6L153.8 158.7L152.7 161.5L151.1 159.2L151.8 153ZM402.9 68.7L401.7 71.9L400.6 76.4L399.4 80.4L400 83.3L401.1 86.1L400.6 90.1L399.8 94.1L398.9 98.1L399.1 101.3L397.1 100.4L394.9 99.3L395.4 103.9L396 109.6L396.8 115.3L397.5 119.3L400 121.6L401.4 122.7L402.9 119.6L405.1 121.6L405.1 121.7L402.9 124.6L402.1 128L402.3 131.4L405.1 133.5L408 134.3L410.9 131.4L412.6 130.3L414.9 132L417.1 136L418.9 139.4L420.3 141.1L420.8 137.1L420 132.6L421.7 131.4L424 134.9L425.7 138.9L427.4 142.3L430.3 144.3L433.1 144L433.7 142.9L431.4 139.4L429.7 136L428.6 133.5L431.4 132L427.4 129.1L424 126.9L421.1 126.3L418.3 127.4L416.6 129.7L413.7 128.6L412.3 125.7L411.4 122.3L411.2 120L412 124L411.2 120.4L410.1 116.4L409.1 112.4L409.7 108.4L410.9 105L413.7 101L416 97L418.1 93L418.9 89L418.3 86.1L416 83.3L415.8 78.7L416.6 73.6L417.5 69.3L416 70.1L413.7 72.4L412 71.6L409.1 70.1L407.4 68.4L405.7 67.5L402.9 68.7M400.6 137.1L403.4 136.6L406.9 137.7L409.7 140.6L410.9 144.6L410.5 149.7L408.6 152.6L406.9 153.5L405.1 150.9L403.4 146.3L402.3 141.7L400.6 138.3ZM435.4 149.7L438.9 149.9L443.4 149.1L445.1 152L445.9 157.7L445.7 162.3L446.9 166.9L444 168L441.1 168.6L441.1 172.6L442.3 176L443.2 178.9L441.1 180L439.4 180.3L438.9 176L437.7 172.6L436 171.4L435.7 168L436 164L439.4 163.4L440.6 159.4L438.9 156.6L436.6 154.9L435.7 152ZM413.7 158.6L417.1 158.6L418.9 160L419.4 162.9L424 162.9L424.2 165.7L424 169.1L426.3 170.9L427.4 172.6L427.4 176.6L429.1 174.9L430.6 171.4L432.2 168.6L432.6 172.6L432.6 177.1L433.7 180.6L436.6 181.7L436.8 185.1L435.4 188L432.9 188.6L430.6 186.3L429.7 184L428 186.3L426.3 185.7L424.6 186.9L424.6 190.9L425.1 193.7L426.5 190L426.3 193.4L424 195.7L421.7 194L419.4 190L421.1 193.1L419.2 189.1L418.3 185.7L419.4 184.6L421.7 182.6L421.7 179.4L420.6 176.6L418.3 175.4L414.9 176.2L413.5 175.4L414.3 171.4L414.6 166.9L414.3 162.3L413.7 158.6M392 166.3L392.6 170.3L393.4 174.3L392 177.7L389.7 180.6L386.9 183.4L385.1 186.9L384 190.3L382.3 193.7L381.7 193.4L378.9 197.4L376 200.9L372.6 203.7L372 201.4L373.7 198L376.6 194L376.6 194.3L379.4 190.9L382.3 186.9L385.1 182.9L387.4 178.9L389.1 174.9L390.9 170.3ZM446.9 190L445.7 192.3L445.7 195.1L444 198L441.1 196.3L439.4 198.6L437.7 202L434.3 204.3L432 207.1L430.6 203.7L429.1 200.9L426.9 200.3L424.6 202L422.3 205.4L420 207.7L416.6 209.4L414.9 211.7L414.3 215.7L414.3 220.9L415.1 224.3L416.6 219.7L417.7 215.7L420 213.4L421.7 214L422.6 217.4L424.6 217.4L426.9 214.6L429.1 212.9L431.4 214L433.1 216.3L433.4 219.1L432 223.1L431.8 227.1L432.6 231.1L436 234L439.4 236.3L442.3 237.4L444.8 241.4L446.9 236.9L447.1 234L445.7 230.6L444.3 226.6L445.7 222.6L447.8 219.1L449.4 223.1L450.5 227.7L451.4 231.1L453.1 226.6L454.6 221.4L455.8 216.9L454.9 211.7L453.5 206L453.5 201.4L453.1 198L451.4 194L449.4 191.1L448 190M445.7 193.1L444.8 192L444.3 188.6L444.8 186.1L446.9 187.4L449.1 190.3L451.4 193.7M368 221.4L370.3 224.3L373.7 227.7L376.6 230.6L376.2 236.9L379.4 238.6L384 241.4L389.7 246L386.9 248.3L382.9 250.6L381.1 253.4L383.4 255.7L381.7 258L378.9 259.1L377.1 261.4L376.9 265M397.1 582.3L402.9 580.4L407.4 575.9L410.9 570.1L414.3 564.4L416.6 558.3L415.4 550.7L417.7 546.1L423.4 537.7L425.7 543.9L428 549.6L431.4 543.9L429.1 537L433.7 532.4L436 533.6L438.3 524.4L441.7 519.9L444 513L448.6 511.9L453.1 507.3L458.9 502.7L463.4 505L468 511.9L469.6 519.9L473.7 516.4L477.1 515.3L480.6 518.7L483.3 519.9L484 514.1L480.1 510.7L482.9 506.1L486.3 498.1L490.9 494.7L492 486.7L494.3 482.1L501.1 481L506.9 479.9L509.1 474.1L506.9 469.6L512.6 471.9L517.1 475.3L524 477.6L530.9 481L536.6 479.9L538.9 484.4L543.4 478.7L548 482.1L544.6 493.6L540 494.7L538.9 503.9L536.6 511.9L535.4 517.6L540 521L543.4 524.4L545 530.1L550.3 531.3L553.7 534.7L560.6 539.3L567.4 543.9L570.9 549.6L574.3 554.1L580 553M487.4 468.4L490.9 469.6L495.4 468.4L498.4 469.6L497.7 474.1L494.3 477.6L489.7 475.3L487.4 471.9ZM540 521.6L542.7 524.3L544 529.8L550.1 530.7L553.7 534.4L558.3 539L567.5 543.5L570.2 549L574.8 554.1L579.3 553.6L583.6 550.8L583.9 543.5L586.7 536.2L589 527.1L589.8 517.9L588.5 506.9L589.4 495.9L591.2 483.1L593.4 472.2L594.9 465.7L597.1 463L599.5 464.8L601.3 472.2L603.1 481.3L606.3 490.5L607.3 499.6L608.6 506.9L611.7 509.7L615.4 508.4L618.7 512.4L622.4 517.9L623.3 525.2L624.2 534.4L626 541.7L628.8 548.1L629.7 556.3L629.3 562.7L631.5 569.1L635.2 572.8L640.7 575L643.4 577.4L645.8 582M540 480.4L543.7 478.6L547.7 482.2L545.5 487.7L544.6 494.1L540 494.5M566.5 343L572 345.7L580.3 350.3L589.4 355.8L598.6 360.4L607.7 364L615 369.5L620.5 374.1L625.1 379.6L626.9 386L626 389.7L629.7 391L633.3 393.3L636.1 396.1L641.6 394.6L644.3 397.9L644.7 403.4L641.6 406.1L637.9 408L637 411.6L639.7 416.2L643.4 419.9L648 423.5L649.8 429L651.6 434.5L655.3 438.2L657.1 437.3L657.1 442.7L660.8 444.6L665 444M665 457.4L659 452.8L651.6 451L645.2 449.1L640.7 445.5L635.2 438.2L631.5 430.8L628.8 423.5L624.2 420.8L620.5 419L616.9 416.6L613.2 416.2L609.5 419.9L606.8 423.5L604.1 429L604.4 434.5L601.3 438.2L598.6 439.6L593.1 438.2L585.8 436.7L581.2 433.6L577.5 429L574.8 423.5L570.2 423.5L564.7 425.4L559.2 427.2L554.6 427.6L555.6 423.5L558.3 418L562.9 413.5L562.3 406.1L560.1 397.9L557.4 391.5L554.6 386.9L549.2 382.3L543.7 378.7L540 375.9M665 389.7L659 391L653.5 390.2L648.9 391L651.6 394.2L655.3 397L660.8 399.4L665 400.7M633.7 343.9L637 343L640.3 344.5L637.9 346.3L634.3 345.7ZM267.3 405.3L271.7 397.3L272.4 394.6L275.8 396L280.6 394.3L284.1 395.7L287.5 398.7L290.9 399.4L293.7 401.5L295 404.9L297.8 406.3L303.3 406.7L310.1 406.9L312.9 405.6L314.2 402.1L318.4 402.8L323.8 405.6L329.3 407.6L332.1 410.4L332.8 415.9L336.2 417.2L340.3 417.9L344.4 417.6L346.9 419.3L347.2 424.8L346.5 431L340.3 428.2L334.8 425.5L329.3 426.8L322.5 425.5L315.6 423.4L310.1 421.4L306 419L300.5 418.6L295 419.3L290.9 418.6L286.8 416.6L282 414.5L277.2 413.1L275.1 409.7L271 407.6ZM333.2 410.4L337.6 409L342.4 408.6L340.3 411.7L334.8 412.2ZM349.6 426.8L354 425.5L357.5 428.2L354.7 433L351.3 430.3ZM362.9 427.8L366.4 428.2L365 434.4L361.2 434.1ZM258 391.9L262.1 389.8L265.5 391.2L269 392.5L270.3 385M370 429.5L373.4 428.8L376.2 430.9L378.2 427.4L376.9 424.7L378.9 423.6L381.7 426.7L383.7 425.4L386.5 427.4L387.8 432.2L385.1 431.6L383 433.6L379.6 432.2L375.5 435.7L371.4 437.3L368.6 438.1L366.6 435.9L367 432.2L369.3 430.2ZM395.4 430.9L396.7 427.4L400.9 426.1L405 428.1L409.8 431.6L413.9 430.2L418 428.8L421.4 424L424.2 423.3L424.6 426.1L421.4 429.5L418 432.2L413.9 434.3L410.5 434.3L407 436.8L402.9 434.3L397.4 433.6ZM426.2 427.4L429 426.3L431 427.4L429.3 429.5L426.5 429.1ZM435.2 426.1L438.6 424.7L442 426.3L438.6 428.5L435.6 428.1ZM387.6 442.5L391.9 440.9L397.4 441.2L401.6 444.6L404.3 450.1L400.5 453.2L396.7 449.4L394 447.3L389.2 446.6ZM427.6 454.2L429 446.6L432.4 440.5L437.9 437L441.3 432.9L448.2 429.5L455.7 427.7L460.5 427.4L459.8 430.9L455 434.3L448.9 437.7L443.4 441.8L439.3 447.3L434.5 452.1L430.4 454.2ZM448.2 421.3L450.9 417.8L455.7 416.5L455 420.6L452.3 422.6L448.9 422.2ZM202.4 195L204 203L207 209L212 215L216 221L220 229L223.6 239L224 249L225 257L228 265L231 275L235 281L240 287L245 291L250 296L255 297.4L256 293L254 285L251 277L249 269L249 259L248.4 249L246 242L242 236L237 230L232 224L226 219L222 214L219 207L217.6 200L217 195M176 242L178 240L182 241L186 245L192 246L197 248L201 253L204 259L208 265L214 271L220 277L226 286L232 289L237 293L243 299L246 305L250 309L253 315L252 321L250 326.2L256 329L259 335L262 341L266 346L271 351L273 356L272 366L271 378L270 392L266 390L262 392L258 391L255 385L249 378L243 370L237 362L232 354L227 344L224 334L222 326L219 321L216 315L213 308L210 302L208 295L205 289L201 283L196 274L191 266L186 259L181 253L177 247ZM180.4 277.4L183 279L186 284L184 284.6L181 281ZM194 298L196 296.6L200 304L199 306.6L196 303ZM262 195L267 196L264 200L261.6 198ZM266 340L271 336L275 344L278 354L276 356L272 350L268 345ZM287 351L292 350.4L291 358L287 357.6ZM208 329L210 330L212.4 338L210 339.6L208 335ZM370 223L367 228L362 234L358 240L355.4 246L353 250L348 251L344 255L340 261L336 268L330 276L322 278L320 283L318 291L317 295L311 293L303 289L298 295L297 303L299 311L302 315L304 326L305 330L306 338L307 346L310 354L315 356L323 356L324 363L331 360L336 357L341 360L346 363L350 370L357 367L361 364L363 356L365 346L367 338L371 332L373 326L375 319L376 312L380 306L387 304L383 299L379 293L380 286L378 280L374.6 275L375 269L378 264L382 260L380 257L383 252L389 247.4L383 243L376.6 238L377 232L372 226ZM427 326L423 328L415 330L411 334L408 341L411 344L412 340L415 336L418 340L415 346L412 352L414 359L418 364L421 370L424 378L425 384L423 391L420 389L419 380L417 374L412 379L410 372L407.4 364L407 358L406 352L403 353L400 358L398.6 366L399 374L400 384L398.6 390L395 391L392 386L391.4 376L392 366L391 356L386 352L387 344L389 334L391 326L394 326.2M394 326.2L395 319L397 311L401 307L405 304L407 299L413 301L421 304L428 305L435 303L441 297L443 293L442 298L439 304L433 309L425 311L417 309L409 310L404 313L401 319L402 326.2M537 357L542 350L547 345L552 338L557 335L564 340M537 357L534 361L529 356L525 355L521 359L518 363L513 369L510 364L508 359L504 356M528 371L534 375L542 379L550 383L557 386L559 392L561 400L563 408L564 414L558 416L555 422L554 427M450.3 361.8L454.6 357.5L460.3 360.4L458.9 366.1L453.2 366.1ZM467.5 357.5L473.2 353.2L489 356.1L491.9 364.7L486.1 361.8L476.1 360.4L470.4 361.8ZM522 394.8L524.8 390.5L526.9 394.8L525.7 406.3L522.8 412L521.1 403.4ZM496.2 414.9L499 411.4L499.9 417.2L497 421.2ZM461.8 334.6L464.6 338.9L468.9 337.5L466.6 334ZM501.9 338.9L507.6 346.1L513.4 353.2L517.7 350.4L519.1 343.2"/>
</g>
<g clip-path="url(#ax)" fill="none">
<path d="M128.5 214.8L200 215.2L228 216L243 215.9L249 216.9L274 217.3L280 218.7L308 218.9L328 219.7L380 219.6L428 218.6L433 217.4L465 216L480 216L487 214.7L503 214.6L511 214.4L518 213.3L601 213L606 213.2L611 214.6L630 215.2L648 215.8L664.5 216.8" stroke="#000" stroke-width="2.2" stroke-dasharray="8 8" fill="none"/>
<path d="M580.9 585L581.4 583L619.3 420L637.9 345L646.3 310L664.7 241.2" stroke="#ff0000" stroke-width="1.25" stroke-linejoin="round"/>
<path d="M660.2 584L664.6 566.5" stroke="#00ff00" stroke-width="1.2"/>
</g>
<path d="M128.5 49.5H664.5V582.5H128.5ZM218.5 582.5v-5M218.5 49.5v5M307.5 582.5v-5M307.5 49.5v5M396.5 582.5v-5M396.5 49.5v5M485.5 582.5v-5M485.5 49.5v5M574.5 582.5v-5M574.5 49.5v5M128.5 517.5h6M664.5 517.5h-6M128.5 450.5h6M664.5 450.5h-6M128.5 383.5h6M664.5 383.5h-6M128.5 316.5h6M664.5 316.5h-6M128.5 249.5h6M664.5 249.5h-6M128.5 182.5h6M664.5 182.5h-6M128.5 115.5h6M664.5 115.5h-6" stroke="#262626" stroke-width="1" fill="none" shape-rendering="crispEdges"/>
<text x="128.5" y="612.5" font-size="20.3" text-anchor="middle">90</text>
<text x="218.8" y="612.5" font-size="20.3" text-anchor="middle">100</text>
<text x="307.5" y="612.5" font-size="20.3" text-anchor="middle">110</text>
<text x="397.7" y="612.5" font-size="20.3" text-anchor="middle">120</text>
<text x="486.5" y="612.5" font-size="20.3" text-anchor="middle">130</text>
<text x="575.7" y="612.5" font-size="20.3" text-anchor="middle">140</text>
<text x="664.5" y="612.5" font-size="20.3" text-anchor="middle">150</text>
<text x="120.5" y="591.7" font-size="20.3" text-anchor="end">-20</text>
<text x="120.5" y="524.7" font-size="20.3" text-anchor="end">-15</text>
<text x="120.5" y="457.7" font-size="20.3" text-anchor="end">-10</text>
<text x="120.5" y="390.7" font-size="20.3" text-anchor="end">-5</text>
<text x="120.5" y="323.7" font-size="20.3" text-anchor="end">0</text>
<text x="120.5" y="256.7" font-size="20.3" text-anchor="end">5</text>
<text x="120.5" y="189.7" font-size="20.3" text-anchor="end">10</text>
<text x="120.5" y="122.7" font-size="20.3" text-anchor="end">15</text>
<text x="120.5" y="56.7" font-size="20.3" text-anchor="end">20</text>
<text x="397.4" y="644" font-size="22.6" letter-spacing="0.35" text-anchor="middle">Geographic Lon. (°)</text>
<text transform="translate(75.6 316.5) rotate(-90)" font-size="22.6" letter-spacing="0.35" text-anchor="middle">Geographic Lat. (°)</text>
<text x="396.8" y="39.8" font-size="23" font-weight="bold" text-anchor="middle" style="fill:#000">09:00 UT</text>
<g shape-rendering="crispEdges">
<rect x="698.5" y="574.2" width="32.0" height="8.9" fill="#00008f"/>
<rect x="698.5" y="565.8" width="32.0" height="8.9" fill="#00009f"/>
<rect x="698.5" y="557.5" width="32.0" height="8.9" fill="#0000af"/>
<rect x="698.5" y="549.2" width="32.0" height="8.9" fill="#0000bf"/>
<rect x="698.5" y="540.9" width="32.0" height="8.9" fill="#0000cf"/>
<rect x="698.5" y="532.5" width="32.0" height="8.9" fill="#0000df"/>
<rect x="698.5" y="524.2" width="32.0" height="8.9" fill="#0000ef"/>
<rect x="698.5" y="515.9" width="32.0" height="8.9" fill="#0000ff"/>
<rect x="698.5" y="507.5" width="32.0" height="8.9" fill="#0010ff"/>
<rect x="698.5" y="499.2" width="32.0" height="8.9" fill="#0020ff"/>
<rect x="698.5" y="490.9" width="32.0" height="8.9" fill="#0030ff"/>
<rect x="698.5" y="482.6" width="32.0" height="8.9" fill="#0040ff"/>
<rect x="698.5" y="474.2" width="32.0" height="8.9" fill="#0050ff"/>
<rect x="698.5" y="465.9" width="32.0" height="8.9" fill="#0060ff"/>
<rect x="698.5" y="457.6" width="32.0" height="8.9" fill="#0070ff"/>
<rect x="698.5" y="449.2" width="32.0" height="8.9" fill="#0080ff"/>
<rect x="698.5" y="440.9" width="32.0" height="8.9" fill="#008fff"/>
<rect x="698.5" y="432.6" width="32.0" height="8.9" fill="#009fff"/>
<rect x="698.5" y="424.3" width="32.0" height="8.9" fill="#00afff"/>
<rect x="698.5" y="415.9" width="32.0" height="8.9" fill="#00bfff"/>
<rect x="698.5" y="407.6" width="32.0" height="8.9" fill="#00cfff"/>
<rect x="698.5" y="399.3" width="32.0" height="8.9" fill="#00dfff"/>
<rect x="698.5" y="391" width="32.0" height="8.9" fill="#00efff"/>
<rect x="698.5" y="382.6" width="32.0" height="8.9" fill="#00ffff"/>
<rect x="698.5" y="374.3" width="32.0" height="8.9" fill="#10ffef"/>
<rect x="698.5" y="366" width="32.0" height="8.9" fill="#20ffdf"/>
<rect x="698.5" y="357.6" width="32.0" height="8.9" fill="#30ffcf"/>
<rect x="698.5" y="349.3" width="32.0" height="8.9" fill="#40ffbf"/>
<rect x="698.5" y="341" width="32.0" height="8.9" fill="#50ffaf"/>
<rect x="698.5" y="332.7" width="32.0" height="8.9" fill="#60ff9f"/>
<rect x="698.5" y="324.3" width="32.0" height="8.9" fill="#70ff8f"/>
<rect x="698.5" y="316" width="32.0" height="8.9" fill="#80ff80"/>
<rect x="698.5" y="307.7" width="32.0" height="8.9" fill="#8fff70"/>
<rect x="698.5" y="299.3" width="32.0" height="8.9" fill="#9fff60"/>
<rect x="698.5" y="291" width="32.0" height="8.9" fill="#afff50"/>
<rect x="698.5" y="282.7" width="32.0" height="8.9" fill="#bfff40"/>
<rect x="698.5" y="274.4" width="32.0" height="8.9" fill="#cfff30"/>
<rect x="698.5" y="266" width="32.0" height="8.9" fill="#dfff20"/>
<rect x="698.5" y="257.7" width="32.0" height="8.9" fill="#efff10"/>
<rect x="698.5" y="249.4" width="32.0" height="8.9" fill="#ffff00"/>
<rect x="698.5" y="241" width="32.0" height="8.9" fill="#ffef00"/>
<rect x="698.5" y="232.7" width="32.0" height="8.9" fill="#ffdf00"/>
<rect x="698.5" y="224.4" width="32.0" height="8.9" fill="#ffcf00"/>
<rect x="698.5" y="216.1" width="32.0" height="8.9" fill="#ffbf00"/>
<rect x="698.5" y="207.7" width="32.0" height="8.9" fill="#ffaf00"/>
<rect x="698.5" y="199.4" width="32.0" height="8.9" fill="#ff9f00"/>
<rect x="698.5" y="191.1" width="32.0" height="8.9" fill="#ff8f00"/>
<rect x="698.5" y="182.8" width="32.0" height="8.9" fill="#ff8000"/>
<rect x="698.5" y="174.4" width="32.0" height="8.9" fill="#ff7000"/>
<rect x="698.5" y="166.1" width="32.0" height="8.9" fill="#ff6000"/>
<rect x="698.5" y="157.8" width="32.0" height="8.9" fill="#ff5000"/>
<rect x="698.5" y="149.4" width="32.0" height="8.9" fill="#ff4000"/>
<rect x="698.5" y="141.1" width="32.0" height="8.9" fill="#ff3000"/>
<rect x="698.5" y="132.8" width="32.0" height="8.9" fill="#ff2000"/>
<rect x="698.5" y="124.5" width="32.0" height="8.9" fill="#ff1000"/>
<rect x="698.5" y="116.1" width="32.0" height="8.9" fill="#ff0000"/>
<rect x="698.5" y="107.8" width="32.0" height="8.9" fill="#ef0000"/>
<rect x="698.5" y="99.5" width="32.0" height="8.9" fill="#df0000"/>
<rect x="698.5" y="91.1" width="32.0" height="8.9" fill="#cf0000"/>
<rect x="698.5" y="82.8" width="32.0" height="8.9" fill="#bf0000"/>
<rect x="698.5" y="74.5" width="32.0" height="8.9" fill="#af0000"/>
<rect x="698.5" y="66.2" width="32.0" height="8.9" fill="#9f0000"/>
<rect x="698.5" y="57.8" width="32.0" height="8.9" fill="#8f0000"/>
<rect x="698.5" y="49.5" width="32.0" height="8.9" fill="#800000"/>
</g>
<path d="M698.5 49.5H730.5V582.5H698.5ZM730.5 517.5h-5.5M730.5 450.5h-5.5M730.5 383.5h-5.5M730.5 316.5h-5.5M730.5 249.5h-5.5M730.5 182.5h-5.5M730.5 115.5h-5.5" stroke="#262626" stroke-width="1" fill="none" shape-rendering="crispEdges"/>
<text x="739.5" y="591" font-size="18">0</text>
<text x="739.5" y="524" font-size="18">0.1</text>
<text x="739.5" y="457" font-size="18">0.2</text>
<text x="739.5" y="390" font-size="18">0.3</text>
<text x="739.5" y="323" font-size="18">0.4</text>
<text x="739.5" y="256" font-size="18">0.5</text>
<text x="739.5" y="189" font-size="18">0.6</text>
<text x="739.5" y="122" font-size="18">0.7</text>
<text x="739.5" y="55.5" font-size="18">0.8</text>
<text transform="translate(791.3 315.7) rotate(-90)" font-size="18.8" text-anchor="middle">ROTI (TECU/min)</text>
</svg></body></html>
